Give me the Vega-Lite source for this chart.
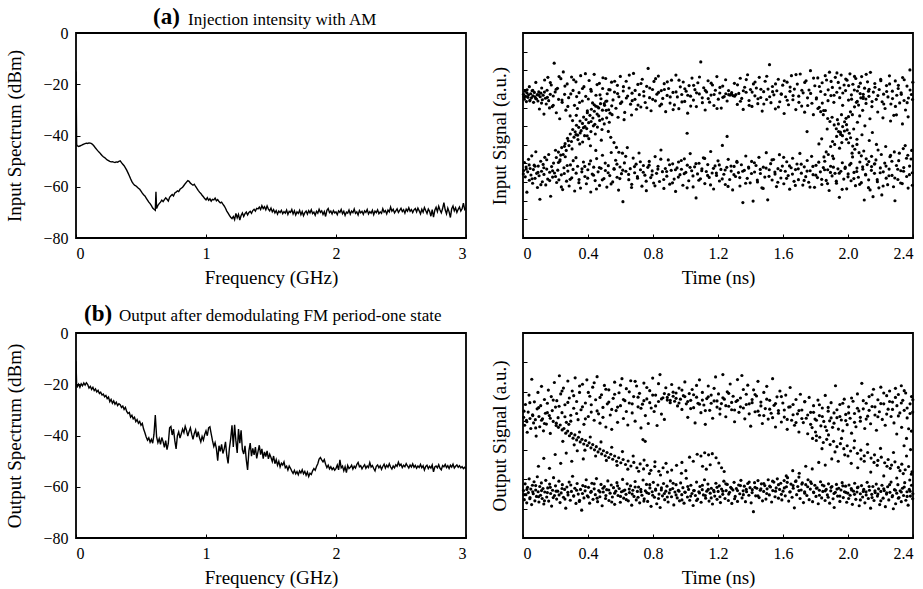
{
"$schema":"https://vega.github.io/schema/vega-lite/v6.json",
"background":"white",
"padding":{"left":5,"top":5,"right":5,"bottom":5},
"columns":2,
"spacing":{"row":95,"column":57},
"bounds":"flush",
"config":{
"font":"Liberation Serif, DejaVu Serif, serif",
"view":{"stroke":"black","strokeWidth":1.8},
"axis":{"domain":false,"grid":false,"ticks":true,"tickColor":"black","tickSize":-4,"tickWidth":1,"labelFont":"Liberation Serif, DejaVu Serif, serif","labelFontSize":16,"labelColor":"black","titleFont":"Liberation Serif, DejaVu Serif, serif","titleFontSize":19,"titleFontWeight":"normal","titleColor":"black"},
"axisX":{"labelPadding":11,"titlePadding":7},
"axisY":{"labelPadding":12,"titlePadding":18},
"title":{"font":"Liberation Serif, DejaVu Serif, serif","color":"black"}
},
"datasets":{
"sa":[{"f":0,"p":-15},{"f":0.005,"p":-43.5},{"f":0.01,"p":-44.0},{"f":0.02,"p":-44.3},{"f":0.03,"p":-44.1},{"f":0.04,"p":-43.9},{"f":0.05,"p":-43.6},{"f":0.06,"p":-43.4},{"f":0.07,"p":-43.2},{"f":0.08,"p":-43.0},{"f":0.09,"p":-43.1},{"f":0.10,"p":-42.9},{"f":0.11,"p":-43.0},{"f":0.12,"p":-43.2},{"f":0.13,"p":-43.6},{"f":0.14,"p":-44.2},{"f":0.15,"p":-44.9},{"f":0.16,"p":-45.5},{"f":0.17,"p":-46.1},{"f":0.18,"p":-46.6},{"f":0.19,"p":-47.2},{"f":0.20,"p":-47.8},{"f":0.21,"p":-48.3},{"f":0.22,"p":-48.6},{"f":0.23,"p":-49.1},{"f":0.24,"p":-49.5},{"f":0.25,"p":-49.8},{"f":0.26,"p":-50.1},{"f":0.27,"p":-50.3},{"f":0.28,"p":-50.2},{"f":0.29,"p":-50.4},{"f":0.30,"p":-50.5},{"f":0.31,"p":-50.3},{"f":0.32,"p":-50.4},{"f":0.33,"p":-50.1},{"f":0.34,"p":-49.9},{"f":0.35,"p":-50.6},{"f":0.36,"p":-51.2},{"f":0.37,"p":-51.8},{"f":0.38,"p":-52.6},{"f":0.39,"p":-53.5},{"f":0.40,"p":-54.6},{"f":0.41,"p":-55.7},{"f":0.42,"p":-56.9},{"f":0.43,"p":-58.0},{"f":0.44,"p":-58.8},{"f":0.45,"p":-59.4},{"f":0.46,"p":-59.6},{"f":0.47,"p":-60.1},{"f":0.48,"p":-60.6},{"f":0.49,"p":-61.0},{"f":0.50,"p":-61.7},{"f":0.51,"p":-62.5},{"f":0.52,"p":-63.1},{"f":0.53,"p":-63.6},{"f":0.54,"p":-64.4},{"f":0.55,"p":-65.2},{"f":0.56,"p":-66.0},{"f":0.57,"p":-66.6},{"f":0.58,"p":-67.4},{"f":0.59,"p":-68.3},{"f":0.60,"p":-68.8},{"f":0.61,"p":-69.2},{"f":0.615,"p":-62.0},{"f":0.62,"p":-68.5},{"f":0.63,"p":-67.3},{"f":0.64,"p":-66.6},{"f":0.65,"p":-66.0},{"f":0.66,"p":-65.2},{"f":0.67,"p":-65.8},{"f":0.68,"p":-65.0},{"f":0.69,"p":-64.3},{"f":0.70,"p":-64.9},{"f":0.71,"p":-65.6},{"f":0.72,"p":-64.1},{"f":0.73,"p":-63.5},{"f":0.74,"p":-63.0},{"f":0.75,"p":-63.6},{"f":0.76,"p":-62.4},{"f":0.77,"p":-62.1},{"f":0.78,"p":-61.6},{"f":0.79,"p":-61.9},{"f":0.80,"p":-61.0},{"f":0.81,"p":-60.6},{"f":0.82,"p":-60.2},{"f":0.83,"p":-59.5},{"f":0.84,"p":-58.8},{"f":0.85,"p":-58.2},{"f":0.86,"p":-57.6},{"f":0.87,"p":-57.9},{"f":0.88,"p":-58.6},{"f":0.89,"p":-59.0},{"f":0.90,"p":-59.4},{"f":0.91,"p":-59.0},{"f":0.92,"p":-59.9},{"f":0.93,"p":-60.6},{"f":0.94,"p":-61.4},{"f":0.95,"p":-62.1},{"f":0.96,"p":-62.6},{"f":0.97,"p":-63.3},{"f":0.98,"p":-63.9},{"f":0.99,"p":-64.6},{"f":1.00,"p":-65.1},{"f":1.01,"p":-64.3},{"f":1.02,"p":-65.3},{"f":1.03,"p":-64.7},{"f":1.04,"p":-65.6},{"f":1.05,"p":-64.9},{"f":1.06,"p":-65.1},{"f":1.07,"p":-64.4},{"f":1.08,"p":-65.5},{"f":1.09,"p":-65.0},{"f":1.10,"p":-65.8},{"f":1.11,"p":-66.3},{"f":1.12,"p":-66.0},{"f":1.13,"p":-66.8},{"f":1.14,"p":-67.5},{"f":1.15,"p":-68.4},{"f":1.16,"p":-69.5},{"f":1.17,"p":-70.3},{"f":1.18,"p":-71.2},{"f":1.19,"p":-71.9},{"f":1.20,"p":-72.4},{"f":1.21,"p":-71.6},{"f":1.22,"p":-72.8},{"f":1.23,"p":-70.4},{"f":1.24,"p":-72.1},{"f":1.25,"p":-70.8},{"f":1.26,"p":-73.0},{"f":1.27,"p":-71.2},{"f":1.28,"p":-70.2},{"f":1.29,"p":-71.6},{"f":1.30,"p":-70.5},{"f":1.31,"p":-69.9},{"f":1.32,"p":-71.0},{"f":1.33,"p":-70.0},{"f":1.34,"p":-69.6},{"f":1.35,"p":-70.4},{"f":1.36,"p":-69.3},{"f":1.37,"p":-68.8},{"f":1.38,"p":-69.5},{"f":1.39,"p":-68.4},{"f":1.40,"p":-68.6},{"f":1.41,"p":-67.9},{"f":1.42,"p":-68.9},{"f":1.43,"p":-67.4},{"f":1.44,"p":-68.5},{"f":1.45,"p":-67.8},{"f":1.46,"p":-69.0},{"f":1.47,"p":-67.5},{"f":1.48,"p":-68.7},{"f":1.49,"p":-69.4},{"f":1.50,"p":-68.3},{"f":1.51,"p":-69.8},{"f":1.52,"p":-68.9},{"f":1.53,"p":-70.2},{"f":1.54,"p":-69.3},{"f":1.55,"p":-70.7},{"f":1.56,"p":-69.5},{"f":1.57,"p":-70.1},{"f":1.58,"p":-69.2},{"f":1.59,"p":-70.5},{"f":1.60,"p":-69.7},{"f":1.61,"p":-70.3},{"f":1.62,"p":-69.1},{"f":1.63,"p":-70.8},{"f":1.64,"p":-69.6},{"f":1.65,"p":-70.0},{"f":1.66,"p":-68.9},{"f":1.67,"p":-70.6},{"f":1.68,"p":-69.4},{"f":1.69,"p":-71.0},{"f":1.70,"p":-69.8},{"f":1.71,"p":-70.4},{"f":1.72,"p":-69.2},{"f":1.73,"p":-70.9},{"f":1.74,"p":-69.7},{"f":1.75,"p":-71.3},{"f":1.76,"p":-70.1},{"f":1.77,"p":-69.5},{"f":1.78,"p":-70.7},{"f":1.79,"p":-69.3},{"f":1.80,"p":-70.2},{"f":1.81,"p":-69.0},{"f":1.82,"p":-70.5},{"f":1.83,"p":-69.9},{"f":1.84,"p":-71.1},{"f":1.85,"p":-69.6},{"f":1.86,"p":-70.3},{"f":1.87,"p":-68.8},{"f":1.88,"p":-70.0},{"f":1.89,"p":-69.4},{"f":1.90,"p":-70.8},{"f":1.91,"p":-69.7},{"f":1.92,"p":-71.6},{"f":1.93,"p":-69.2},{"f":1.94,"p":-68.5},{"f":1.95,"p":-70.1},{"f":1.96,"p":-69.5},{"f":1.97,"p":-70.6},{"f":1.98,"p":-69.3},{"f":1.99,"p":-70.2},{"f":2.00,"p":-69.8},{"f":2.01,"p":-70.9},{"f":2.02,"p":-69.4},{"f":2.03,"p":-70.0},{"f":2.04,"p":-68.9},{"f":2.05,"p":-70.5},{"f":2.06,"p":-69.6},{"f":2.07,"p":-71.2},{"f":2.08,"p":-69.9},{"f":2.09,"p":-70.3},{"f":2.10,"p":-69.1},{"f":2.11,"p":-70.7},{"f":2.12,"p":-69.5},{"f":2.13,"p":-70.1},{"f":2.14,"p":-68.7},{"f":2.15,"p":-70.4},{"f":2.16,"p":-69.8},{"f":2.17,"p":-71.0},{"f":2.18,"p":-69.3},{"f":2.19,"p":-70.2},{"f":2.20,"p":-69.6},{"f":2.21,"p":-70.8},{"f":2.22,"p":-69.4},{"f":2.23,"p":-70.0},{"f":2.24,"p":-68.9},{"f":2.25,"p":-70.6},{"f":2.26,"p":-69.7},{"f":2.27,"p":-70.3},{"f":2.28,"p":-69.2},{"f":2.29,"p":-70.9},{"f":2.30,"p":-69.5},{"f":2.31,"p":-70.1},{"f":2.32,"p":-69.0},{"f":2.33,"p":-70.5},{"f":2.34,"p":-69.8},{"f":2.35,"p":-70.4},{"f":2.36,"p":-68.6},{"f":2.37,"p":-69.9},{"f":2.38,"p":-69.3},{"f":2.39,"p":-70.6},{"f":2.40,"p":-69.1},{"f":2.41,"p":-69.8},{"f":2.42,"p":-67.9},{"f":2.43,"p":-69.5},{"f":2.44,"p":-68.8},{"f":2.45,"p":-70.2},{"f":2.46,"p":-69.4},{"f":2.47,"p":-68.6},{"f":2.48,"p":-70.0},{"f":2.49,"p":-69.2},{"f":2.50,"p":-68.4},{"f":2.51,"p":-69.7},{"f":2.52,"p":-69.0},{"f":2.53,"p":-70.3},{"f":2.54,"p":-68.7},{"f":2.55,"p":-69.5},{"f":2.56,"p":-68.2},{"f":2.57,"p":-69.6},{"f":2.58,"p":-68.9},{"f":2.59,"p":-70.1},{"f":2.60,"p":-69.0},{"f":2.61,"p":-68.5},{"f":2.62,"p":-69.8},{"f":2.63,"p":-68.3},{"f":2.64,"p":-69.4},{"f":2.65,"p":-70.6},{"f":2.66,"p":-68.8},{"f":2.67,"p":-69.9},{"f":2.68,"p":-68.1},{"f":2.69,"p":-69.3},{"f":2.70,"p":-70.4},{"f":2.71,"p":-68.7},{"f":2.72,"p":-69.6},{"f":2.73,"p":-71.5},{"f":2.74,"p":-68.9},{"f":2.75,"p":-71.9},{"f":2.76,"p":-69.2},{"f":2.77,"p":-68.0},{"f":2.78,"p":-69.7},{"f":2.79,"p":-67.6},{"f":2.80,"p":-69.1},{"f":2.81,"p":-70.2},{"f":2.82,"p":-68.5},{"f":2.83,"p":-66.2},{"f":2.84,"p":-69.0},{"f":2.85,"p":-70.6},{"f":2.86,"p":-68.3},{"f":2.87,"p":-69.8},{"f":2.88,"p":-72.0},{"f":2.89,"p":-68.6},{"f":2.90,"p":-67.5},{"f":2.91,"p":-69.4},{"f":2.92,"p":-68.2},{"f":2.93,"p":-70.0},{"f":2.94,"p":-68.8},{"f":2.95,"p":-67.9},{"f":2.96,"p":-69.5},{"f":2.97,"p":-68.6},{"f":2.98,"p":-66.4},{"f":2.99,"p":-68.9},{"f":3.00,"p":-68.3}],
"sb":[{"f":0,"p":-11},{"f":0.005,"p":-20.5},{"f":0.01,"p":-21.0},{"f":0.02,"p":-20.0},{"f":0.03,"p":-21.2},{"f":0.04,"p":-19.8},{"f":0.05,"p":-20.6},{"f":0.06,"p":-19.5},{"f":0.07,"p":-20.3},{"f":0.08,"p":-19.4},{"f":0.09,"p":-20.1},{"f":0.10,"p":-21.5},{"f":0.11,"p":-20.8},{"f":0.12,"p":-22.0},{"f":0.13,"p":-21.2},{"f":0.14,"p":-22.5},{"f":0.15,"p":-21.8},{"f":0.16,"p":-23.0},{"f":0.17,"p":-22.4},{"f":0.18,"p":-23.6},{"f":0.19,"p":-23.1},{"f":0.20,"p":-24.2},{"f":0.21,"p":-23.8},{"f":0.22,"p":-24.9},{"f":0.23,"p":-24.4},{"f":0.24,"p":-25.6},{"f":0.25,"p":-25.0},{"f":0.26,"p":-26.8},{"f":0.27,"p":-25.9},{"f":0.28,"p":-27.4},{"f":0.29,"p":-26.5},{"f":0.30,"p":-27.8},{"f":0.31,"p":-27.0},{"f":0.32,"p":-28.3},{"f":0.33,"p":-27.6},{"f":0.34,"p":-28.0},{"f":0.35,"p":-29.1},{"f":0.36,"p":-28.5},{"f":0.37,"p":-29.8},{"f":0.38,"p":-29.0},{"f":0.39,"p":-30.6},{"f":0.40,"p":-31.4},{"f":0.41,"p":-31.0},{"f":0.42,"p":-32.8},{"f":0.43,"p":-32.1},{"f":0.44,"p":-33.5},{"f":0.45,"p":-32.9},{"f":0.46,"p":-34.6},{"f":0.47,"p":-33.8},{"f":0.48,"p":-35.2},{"f":0.49,"p":-34.5},{"f":0.50,"p":-36.0},{"f":0.51,"p":-35.3},{"f":0.52,"p":-37.5},{"f":0.53,"p":-38.9},{"f":0.54,"p":-40.6},{"f":0.55,"p":-41.8},{"f":0.56,"p":-40.9},{"f":0.57,"p":-42.6},{"f":0.58,"p":-41.5},{"f":0.59,"p":-43.0},{"f":0.60,"p":-39.5},{"f":0.61,"p":-32.0},{"f":0.62,"p":-40.5},{"f":0.63,"p":-42.8},{"f":0.64,"p":-41.2},{"f":0.65,"p":-43.5},{"f":0.66,"p":-40.8},{"f":0.67,"p":-42.4},{"f":0.68,"p":-44.6},{"f":0.69,"p":-42.0},{"f":0.70,"p":-45.5},{"f":0.71,"p":-43.1},{"f":0.72,"p":-37.0},{"f":0.73,"p":-36.5},{"f":0.74,"p":-39.8},{"f":0.75,"p":-37.5},{"f":0.76,"p":-42.0},{"f":0.77,"p":-45.2},{"f":0.78,"p":-40.1},{"f":0.79,"p":-38.6},{"f":0.80,"p":-41.0},{"f":0.81,"p":-39.3},{"f":0.82,"p":-37.5},{"f":0.83,"p":-38.9},{"f":0.84,"p":-36.4},{"f":0.85,"p":-38.0},{"f":0.86,"p":-40.2},{"f":0.87,"p":-38.4},{"f":0.88,"p":-37.0},{"f":0.89,"p":-39.5},{"f":0.90,"p":-41.5},{"f":0.91,"p":-39.2},{"f":0.92,"p":-37.8},{"f":0.93,"p":-40.6},{"f":0.94,"p":-38.5},{"f":0.95,"p":-40.9},{"f":0.96,"p":-42.5},{"f":0.97,"p":-40.4},{"f":0.98,"p":-41.8},{"f":0.99,"p":-39.6},{"f":1.00,"p":-38.2},{"f":1.01,"p":-40.1},{"f":1.02,"p":-37.0},{"f":1.03,"p":-36.6},{"f":1.04,"p":-39.4},{"f":1.05,"p":-42.0},{"f":1.06,"p":-44.3},{"f":1.07,"p":-42.8},{"f":1.08,"p":-45.1},{"f":1.09,"p":-49.8},{"f":1.10,"p":-44.0},{"f":1.11,"p":-46.2},{"f":1.12,"p":-43.5},{"f":1.13,"p":-47.0},{"f":1.14,"p":-45.2},{"f":1.15,"p":-42.5},{"f":1.16,"p":-47.8},{"f":1.17,"p":-50.9},{"f":1.18,"p":-45.0},{"f":1.19,"p":-41.2},{"f":1.20,"p":-36.0},{"f":1.21,"p":-44.5},{"f":1.22,"p":-35.8},{"f":1.23,"p":-42.0},{"f":1.24,"p":-46.8},{"f":1.25,"p":-37.5},{"f":1.26,"p":-43.0},{"f":1.27,"p":-38.0},{"f":1.28,"p":-45.6},{"f":1.29,"p":-47.2},{"f":1.30,"p":-44.0},{"f":1.31,"p":-49.5},{"f":1.32,"p":-53.4},{"f":1.33,"p":-46.0},{"f":1.34,"p":-43.0},{"f":1.35,"p":-48.1},{"f":1.36,"p":-45.0},{"f":1.37,"p":-47.6},{"f":1.38,"p":-44.5},{"f":1.39,"p":-48.9},{"f":1.40,"p":-46.3},{"f":1.41,"p":-43.8},{"f":1.42,"p":-47.5},{"f":1.43,"p":-45.2},{"f":1.44,"p":-49.0},{"f":1.45,"p":-46.4},{"f":1.46,"p":-48.2},{"f":1.47,"p":-46.0},{"f":1.48,"p":-49.1},{"f":1.49,"p":-47.3},{"f":1.50,"p":-48.6},{"f":1.51,"p":-50.2},{"f":1.52,"p":-48.0},{"f":1.53,"p":-51.0},{"f":1.54,"p":-49.4},{"f":1.55,"p":-51.6},{"f":1.56,"p":-50.1},{"f":1.57,"p":-52.3},{"f":1.58,"p":-50.8},{"f":1.59,"p":-51.5},{"f":1.60,"p":-50.3},{"f":1.61,"p":-52.6},{"f":1.62,"p":-52.0},{"f":1.63,"p":-53.5},{"f":1.64,"p":-51.9},{"f":1.65,"p":-52.8},{"f":1.66,"p":-53.9},{"f":1.67,"p":-54.8},{"f":1.68,"p":-53.6},{"f":1.69,"p":-55.0},{"f":1.70,"p":-54.1},{"f":1.71,"p":-55.3},{"f":1.72,"p":-53.8},{"f":1.73,"p":-54.6},{"f":1.74,"p":-53.4},{"f":1.75,"p":-54.9},{"f":1.76,"p":-54.0},{"f":1.77,"p":-55.5},{"f":1.78,"p":-54.3},{"f":1.79,"p":-56.0},{"f":1.80,"p":-54.7},{"f":1.81,"p":-55.2},{"f":1.82,"p":-53.8},{"f":1.83,"p":-52.9},{"f":1.84,"p":-53.6},{"f":1.85,"p":-52.1},{"f":1.86,"p":-51.0},{"f":1.87,"p":-49.2},{"f":1.88,"p":-48.6},{"f":1.89,"p":-49.5},{"f":1.90,"p":-50.3},{"f":1.91,"p":-49.4},{"f":1.92,"p":-51.2},{"f":1.93,"p":-52.5},{"f":1.94,"p":-51.6},{"f":1.95,"p":-53.0},{"f":1.96,"p":-52.2},{"f":1.97,"p":-53.3},{"f":1.98,"p":-52.6},{"f":1.99,"p":-53.5},{"f":2.00,"p":-52.8},{"f":2.01,"p":-51.5},{"f":2.02,"p":-53.4},{"f":2.03,"p":-49.5},{"f":2.04,"p":-52.6},{"f":2.05,"p":-51.9},{"f":2.06,"p":-53.8},{"f":2.07,"p":-52.2},{"f":2.08,"p":-54.5},{"f":2.09,"p":-51.7},{"f":2.10,"p":-52.9},{"f":2.11,"p":-52.4},{"f":2.12,"p":-51.6},{"f":2.13,"p":-53.1},{"f":2.14,"p":-52.0},{"f":2.15,"p":-52.7},{"f":2.16,"p":-51.3},{"f":2.17,"p":-50.5},{"f":2.18,"p":-52.2},{"f":2.19,"p":-51.8},{"f":2.20,"p":-53.0},{"f":2.21,"p":-52.1},{"f":2.22,"p":-51.4},{"f":2.23,"p":-52.8},{"f":2.24,"p":-51.9},{"f":2.25,"p":-52.5},{"f":2.26,"p":-50.6},{"f":2.27,"p":-52.3},{"f":2.28,"p":-51.7},{"f":2.29,"p":-52.9},{"f":2.30,"p":-53.8},{"f":2.31,"p":-52.0},{"f":2.32,"p":-51.5},{"f":2.33,"p":-52.6},{"f":2.34,"p":-51.8},{"f":2.35,"p":-53.2},{"f":2.36,"p":-52.1},{"f":2.37,"p":-51.2},{"f":2.38,"p":-52.7},{"f":2.39,"p":-51.6},{"f":2.40,"p":-52.4},{"f":2.41,"p":-51.0},{"f":2.42,"p":-52.3},{"f":2.43,"p":-53.1},{"f":2.44,"p":-51.9},{"f":2.45,"p":-52.6},{"f":2.46,"p":-51.4},{"f":2.47,"p":-52.0},{"f":2.48,"p":-50.4},{"f":2.49,"p":-51.8},{"f":2.50,"p":-51.2},{"f":2.51,"p":-52.5},{"f":2.52,"p":-51.6},{"f":2.53,"p":-52.2},{"f":2.54,"p":-51.0},{"f":2.55,"p":-51.9},{"f":2.56,"p":-52.7},{"f":2.57,"p":-51.5},{"f":2.58,"p":-52.3},{"f":2.59,"p":-51.1},{"f":2.60,"p":-52.4},{"f":2.61,"p":-51.7},{"f":2.62,"p":-52.8},{"f":2.63,"p":-51.9},{"f":2.64,"p":-52.5},{"f":2.65,"p":-51.3},{"f":2.66,"p":-52.6},{"f":2.67,"p":-51.8},{"f":2.68,"p":-53.5},{"f":2.69,"p":-52.1},{"f":2.70,"p":-51.6},{"f":2.71,"p":-52.9},{"f":2.72,"p":-52.0},{"f":2.73,"p":-52.7},{"f":2.74,"p":-51.5},{"f":2.75,"p":-54.2},{"f":2.76,"p":-52.3},{"f":2.77,"p":-51.9},{"f":2.78,"p":-52.6},{"f":2.79,"p":-51.4},{"f":2.80,"p":-52.8},{"f":2.81,"p":-53.4},{"f":2.82,"p":-51.7},{"f":2.83,"p":-52.2},{"f":2.84,"p":-51.3},{"f":2.85,"p":-52.5},{"f":2.86,"p":-51.8},{"f":2.87,"p":-52.9},{"f":2.88,"p":-51.6},{"f":2.89,"p":-52.3},{"f":2.90,"p":-51.2},{"f":2.91,"p":-52.7},{"f":2.92,"p":-52.0},{"f":2.93,"p":-51.5},{"f":2.94,"p":-52.4},{"f":2.95,"p":-51.8},{"f":2.96,"p":-52.6},{"f":2.97,"p":-52.1},{"f":2.98,"p":-52.9},{"f":2.99,"p":-52.4},{"f":3.00,"p":-53.0}],
"ea":[{"t":0.003,"v":7.71},{"t":0.008,"v":7.45},{"t":0.012,"v":7.88},{"t":0.016,"v":7.60},{"t":0.021,"v":7.32},{"t":0.025,"v":7.95},{"t":0.030,"v":7.55},{"t":0.034,"v":7.68},{"t":0.039,"v":8.12},{"t":0.043,"v":7.40},{"t":0.047,"v":7.74},{"t":0.052,"v":7.52},{"t":0.056,"v":7.90},{"t":0.061,"v":7.63},{"t":0.065,"v":7.28},{"t":0.070,"v":7.81},{"t":0.074,"v":7.57},{"t":0.079,"v":8.35},{"t":0.083,"v":7.46},{"t":0.088,"v":7.69},{"t":0.092,"v":7.35},{"t":0.097,"v":7.84},{"t":0.101,"v":6.92},{"t":0.106,"v":7.58},{"t":0.110,"v":7.77},{"t":0.115,"v":8.05},{"t":0.119,"v":7.42},{"t":0.124,"v":7.66},{"t":0.129,"v":6.65},{"t":0.133,"v":8.48},{"t":0.138,"v":7.50},{"t":0.143,"v":7.19},{"t":0.148,"v":7.93},{"t":0.153,"v":8.62},{"t":0.158,"v":7.37},{"t":0.163,"v":6.98},{"t":0.168,"v":7.71},{"t":0.174,"v":8.21},{"t":0.180,"v":7.05},{"t":0.186,"v":7.62},{"t":0.192,"v":9.38},{"t":0.198,"v":7.84},{"t":0.205,"v":6.72},{"t":0.212,"v":8.03},{"t":0.219,"v":7.44},{"t":0.226,"v":6.40},{"t":0.233,"v":8.55},{"t":0.241,"v":7.28},{"t":0.248,"v":8.91},{"t":0.256,"v":7.71},{"t":0.264,"v":6.86},{"t":0.272,"v":8.27},{"t":0.281,"v":7.53},{"t":0.290,"v":6.55},{"t":0.299,"v":8.64},{"t":0.308,"v":7.92},{"t":0.317,"v":7.12},{"t":0.326,"v":8.38},{"t":0.335,"v":6.95},{"t":0.345,"v":7.80},{"t":0.355,"v":8.71},{"t":0.365,"v":7.35},{"t":0.375,"v":8.12},{"t":0.386,"v":7.60},{"t":0.396,"v":6.82},{"t":0.407,"v":8.45},{"t":0.417,"v":7.98},{"t":0.428,"v":7.25},{"t":0.438,"v":8.78},{"t":0.449,"v":7.66},{"t":0.459,"v":7.04},{"t":0.470,"v":8.30},{"t":0.480,"v":7.47},{"t":0.490,"v":8.02},{"t":0.500,"v":7.21},{"t":0.509,"v":8.56},{"t":0.518,"v":7.74},{"t":0.527,"v":6.88},{"t":0.536,"v":7.95},{"t":0.545,"v":8.36},{"t":0.554,"v":7.41},{"t":0.563,"v":7.83},{"t":0.572,"v":6.96},{"t":0.581,"v":8.19},{"t":0.590,"v":7.58},{"t":0.599,"v":8.67},{"t":0.608,"v":7.30},{"t":0.617,"v":7.89},{"t":0.626,"v":6.74},{"t":0.635,"v":8.41},{"t":0.644,"v":7.62},{"t":0.653,"v":8.05},{"t":0.662,"v":7.18},{"t":0.671,"v":7.77},{"t":0.680,"v":8.83},{"t":0.689,"v":7.44},{"t":0.698,"v":6.91},{"t":0.707,"v":8.24},{"t":0.716,"v":7.69},{"t":0.725,"v":7.03},{"t":0.734,"v":8.52},{"t":0.743,"v":7.86},{"t":0.752,"v":7.27},{"t":0.761,"v":8.14},{"t":0.770,"v":9.10},{"t":0.779,"v":7.53},{"t":0.788,"v":6.83},{"t":0.797,"v":7.97},{"t":0.806,"v":8.40},{"t":0.815,"v":7.36},{"t":0.824,"v":7.72},{"t":0.833,"v":8.69},{"t":0.842,"v":7.09},{"t":0.851,"v":7.91},{"t":0.860,"v":7.49},{"t":0.869,"v":8.28},{"t":0.878,"v":6.78},{"t":0.887,"v":7.65},{"t":0.896,"v":8.02},{"t":0.905,"v":7.24},{"t":0.914,"v":8.47},{"t":0.923,"v":7.81},{"t":0.932,"v":7.14},{"t":0.941,"v":8.74},{"t":0.950,"v":7.57},{"t":0.959,"v":6.94},{"t":0.968,"v":8.11},{"t":0.977,"v":7.70},{"t":0.986,"v":8.37},{"t":0.995,"v":7.33},{"t":1.004,"v":7.88},{"t":1.013,"v":6.70},{"t":1.022,"v":8.18},{"t":1.031,"v":7.61},{"t":1.040,"v":8.58},{"t":1.049,"v":7.40},{"t":1.058,"v":7.96},{"t":1.067,"v":7.05},{"t":1.076,"v":8.33},{"t":1.085,"v":7.73},{"t":1.094,"v":9.45},{"t":1.103,"v":7.52},{"t":1.112,"v":8.06},{"t":1.121,"v":6.87},{"t":1.130,"v":7.84},{"t":1.139,"v":8.44},{"t":1.148,"v":7.29},{"t":1.157,"v":7.67},{"t":1.166,"v":8.21},{"t":1.175,"v":7.11},{"t":1.184,"v":7.93},{"t":1.193,"v":8.66},{"t":1.202,"v":7.45},{"t":1.211,"v":7.78},{"t":1.220,"v":6.97},{"t":1.229,"v":8.15},{"t":1.238,"v":7.59},{"t":1.247,"v":8.49},{"t":1.256,"v":7.35},{"t":1.265,"v":7.91},{"t":1.274,"v":7.67},{"t":1.283,"v":7.72},{"t":1.292,"v":7.64},{"t":1.301,"v":8.30},{"t":1.310,"v":7.70},{"t":1.319,"v":7.17},{"t":1.328,"v":7.76},{"t":1.337,"v":8.57},{"t":1.346,"v":7.49},{"t":1.355,"v":6.90},{"t":1.364,"v":8.09},{"t":1.373,"v":7.82},{"t":1.382,"v":8.76},{"t":1.391,"v":7.38},{"t":1.400,"v":7.97},{"t":1.409,"v":7.06},{"t":1.418,"v":8.27},{"t":1.427,"v":7.63},{"t":1.436,"v":8.05},{"t":1.445,"v":7.21},{"t":1.454,"v":8.62},{"t":1.463,"v":7.54},{"t":1.472,"v":6.81},{"t":1.481,"v":7.85},{"t":1.490,"v":8.41},{"t":1.499,"v":7.43},{"t":1.508,"v":7.99},{"t":1.517,"v":9.30},{"t":1.526,"v":7.26},{"t":1.535,"v":8.13},{"t":1.544,"v":7.68},{"t":1.553,"v":6.93},{"t":1.562,"v":7.90},{"t":1.571,"v":8.52},{"t":1.580,"v":7.31},{"t":1.589,"v":7.74},{"t":1.598,"v":8.20},{"t":1.607,"v":6.68},{"t":1.616,"v":7.58},{"t":1.625,"v":8.36},{"t":1.634,"v":7.15},{"t":1.643,"v":7.87},{"t":1.652,"v":8.71},{"t":1.661,"v":7.42},{"t":1.670,"v":7.99},{"t":1.679,"v":6.89},{"t":1.688,"v":8.26},{"t":1.697,"v":7.61},{"t":1.706,"v":8.80},{"t":1.715,"v":7.08},{"t":1.724,"v":7.79},{"t":1.733,"v":6.75},{"t":1.742,"v":8.44},{"t":1.751,"v":7.52},{"t":1.760,"v":7.94},{"t":1.769,"v":8.98},{"t":1.778,"v":7.23},{"t":1.787,"v":6.62},{"t":1.796,"v":8.17},{"t":1.805,"v":7.46},{"t":1.814,"v":8.59},{"t":1.823,"v":7.01},{"t":1.832,"v":7.86},{"t":1.841,"v":8.33},{"t":1.850,"v":6.84},{"t":1.859,"v":7.70},{"t":1.868,"v":8.48},{"t":1.877,"v":7.37},{"t":1.886,"v":8.90},{"t":1.895,"v":7.64},{"t":1.904,"v":8.08},{"t":1.913,"v":7.28},{"t":1.922,"v":8.62},{"t":1.931,"v":7.82},{"t":1.940,"v":8.35},{"t":1.949,"v":7.53},{"t":1.958,"v":8.74},{"t":1.967,"v":7.12},{"t":1.976,"v":8.21},{"t":1.985,"v":7.91},{"t":1.994,"v":8.47},{"t":2.003,"v":7.40},{"t":2.012,"v":8.81},{"t":2.021,"v":7.68},{"t":2.030,"v":8.25},{"t":2.039,"v":7.94},{"t":2.048,"v":8.56},{"t":2.057,"v":7.33},{"t":2.066,"v":8.12},{"t":2.075,"v":7.75},{"t":2.084,"v":8.66},{"t":2.093,"v":7.49},{"t":2.102,"v":8.04},{"t":2.111,"v":7.22},{"t":2.120,"v":8.38},{"t":2.129,"v":7.60},{"t":2.138,"v":8.89},{"t":2.147,"v":7.05},{"t":2.156,"v":7.83},{"t":2.165,"v":8.29},{"t":2.174,"v":7.44},{"t":2.183,"v":6.76},{"t":2.192,"v":7.97},{"t":2.201,"v":8.52},{"t":2.210,"v":7.31},{"t":2.219,"v":7.72},{"t":2.228,"v":6.95},{"t":2.237,"v":8.18},{"t":2.246,"v":7.57},{"t":2.255,"v":8.70},{"t":2.264,"v":7.19},{"t":2.273,"v":7.88},{"t":2.282,"v":6.58},{"t":2.291,"v":8.43},{"t":2.300,"v":7.66},{"t":2.309,"v":8.02},{"t":2.318,"v":7.25},{"t":2.327,"v":7.79},{"t":2.336,"v":8.61},{"t":2.345,"v":7.38},{"t":2.354,"v":6.87},{"t":2.363,"v":8.15},{"t":2.372,"v":7.51},{"t":2.381,"v":9.02},{"t":2.390,"v":7.70},{"t":2.397,"v":7.43},
{"t":0.006,"v":7.58},{"t":0.024,"v":7.79},{"t":0.042,"v":7.36},{"t":0.060,"v":7.92},{"t":0.078,"v":7.49},{"t":0.096,"v":7.67},{"t":0.114,"v":7.24},{"t":0.132,"v":7.83},{"t":0.150,"v":7.55},{"t":0.168,"v":8.34},{"t":0.186,"v":7.12},{"t":0.204,"v":7.98},{"t":0.222,"v":8.66},{"t":0.240,"v":7.40},{"t":0.258,"v":8.15},{"t":0.276,"v":7.06},{"t":0.294,"v":7.73},{"t":0.312,"v":8.49},{"t":0.330,"v":7.59},{"t":0.348,"v":7.27},{"t":0.366,"v":8.02},{"t":0.384,"v":8.82},{"t":0.402,"v":7.46},{"t":0.420,"v":7.88},{"t":0.438,"v":7.15},{"t":0.456,"v":8.23},{"t":0.474,"v":7.68},{"t":0.492,"v":8.60},{"t":0.510,"v":7.34},{"t":0.528,"v":7.96},{"t":0.546,"v":7.09},{"t":0.564,"v":8.41},{"t":0.582,"v":7.75},{"t":0.600,"v":7.22},{"t":0.618,"v":8.12},{"t":0.636,"v":7.51},{"t":0.654,"v":8.74},{"t":0.672,"v":7.37},{"t":0.690,"v":7.92},{"t":0.708,"v":7.13},{"t":0.726,"v":8.29},{"t":0.744,"v":7.62},{"t":0.762,"v":6.99},{"t":0.780,"v":8.05},{"t":0.798,"v":7.44},{"t":0.816,"v":8.55},{"t":0.834,"v":7.81},{"t":0.852,"v":7.18},{"t":0.870,"v":7.97},{"t":0.888,"v":8.38},{"t":0.906,"v":7.57},{"t":0.924,"v":6.89},{"t":0.942,"v":7.84},{"t":0.960,"v":8.47},{"t":0.978,"v":7.30},{"t":0.996,"v":8.01},{"t":1.014,"v":7.66},{"t":1.032,"v":7.08},{"t":1.050,"v":8.19},{"t":1.068,"v":7.79},{"t":1.086,"v":8.64},{"t":1.104,"v":7.26},{"t":1.122,"v":7.92},{"t":1.140,"v":7.48},{"t":1.158,"v":8.31},{"t":1.176,"v":7.70},{"t":1.194,"v":6.95},{"t":1.212,"v":8.08},{"t":1.230,"v":7.55},{"t":1.248,"v":7.74},{"t":1.266,"v":7.69},{"t":1.284,"v":7.80},{"t":1.302,"v":7.61},{"t":1.320,"v":8.22},{"t":1.338,"v":7.34},{"t":1.356,"v":7.90},{"t":1.374,"v":8.50},{"t":1.392,"v":7.12},{"t":1.410,"v":7.83},{"t":1.428,"v":8.37},{"t":1.446,"v":7.47},{"t":1.464,"v":7.98},{"t":1.482,"v":7.19},{"t":1.500,"v":8.68},{"t":1.518,"v":7.58},{"t":1.536,"v":7.85},{"t":1.554,"v":8.27},{"t":1.572,"v":7.03},{"t":1.590,"v":7.71},{"t":1.608,"v":8.44},{"t":1.626,"v":7.39},{"t":1.644,"v":8.10},{"t":1.662,"v":7.64},{"t":1.680,"v":8.77},{"t":1.698,"v":7.28},{"t":1.716,"v":7.93},{"t":1.734,"v":8.35},{"t":1.752,"v":7.11},{"t":1.770,"v":7.76},{"t":1.788,"v":8.58},{"t":1.806,"v":7.52},{"t":1.824,"v":8.13},{"t":1.842,"v":7.24},{"t":1.860,"v":8.71},{"t":1.878,"v":7.95},{"t":1.896,"v":8.40},{"t":1.914,"v":7.66},{"t":1.932,"v":8.86},{"t":1.950,"v":8.05},{"t":1.968,"v":7.78},{"t":1.986,"v":8.53},{"t":2.004,"v":8.18},{"t":2.022,"v":7.45},{"t":2.040,"v":8.67},{"t":2.058,"v":7.89},{"t":2.076,"v":8.31},{"t":2.094,"v":7.56},{"t":2.112,"v":8.78},{"t":2.130,"v":7.98},{"t":2.148,"v":7.32},{"t":2.166,"v":8.09},{"t":2.184,"v":7.64},{"t":2.202,"v":8.44},{"t":2.220,"v":7.19},{"t":2.238,"v":7.86},{"t":2.256,"v":8.27},{"t":2.274,"v":7.48},{"t":2.292,"v":7.06},{"t":2.310,"v":8.19},{"t":2.328,"v":7.71},{"t":2.346,"v":8.49},{"t":2.364,"v":7.26},{"t":2.382,"v":7.94},{"t":2.399,"v":8.36},
{"t":0.004,"v":3.62},{"t":0.009,"v":4.05},{"t":0.014,"v":3.28},{"t":0.019,"v":3.81},{"t":0.024,"v":2.46},{"t":0.029,"v":3.55},{"t":0.034,"v":4.22},{"t":0.039,"v":3.10},{"t":0.044,"v":3.73},{"t":0.049,"v":3.38},{"t":0.054,"v":4.41},{"t":0.059,"v":2.94},{"t":0.064,"v":3.67},{"t":0.069,"v":3.91},{"t":0.074,"v":3.20},{"t":0.079,"v":4.63},{"t":0.084,"v":3.47},{"t":0.089,"v":2.71},{"t":0.094,"v":3.86},{"t":0.099,"v":3.34},{"t":0.104,"v":2.08},{"t":0.109,"v":4.12},{"t":0.114,"v":3.58},{"t":0.119,"v":3.02},{"t":0.124,"v":3.95},{"t":0.129,"v":3.41},{"t":0.134,"v":4.33},{"t":0.140,"v":2.85},{"t":0.146,"v":3.70},{"t":0.152,"v":3.16},{"t":0.158,"v":4.48},{"t":0.164,"v":3.53},{"t":0.170,"v":2.24},{"t":0.176,"v":3.83},{"t":0.182,"v":3.27},{"t":0.188,"v":4.02},{"t":0.194,"v":3.49},{"t":0.200,"v":4.71},{"t":0.207,"v":2.98},{"t":0.214,"v":3.64},{"t":0.221,"v":3.12},{"t":0.228,"v":4.20},{"t":0.236,"v":3.39},{"t":0.244,"v":2.60},{"t":0.252,"v":3.77},{"t":0.260,"v":4.36},{"t":0.268,"v":3.05},{"t":0.276,"v":3.59},{"t":0.284,"v":2.79},{"t":0.292,"v":3.92},{"t":0.300,"v":3.23},{"t":0.309,"v":4.15},{"t":0.318,"v":2.52},{"t":0.327,"v":3.48},{"t":0.336,"v":3.85},{"t":0.345,"v":3.14},{"t":0.354,"v":2.68},{"t":0.363,"v":3.71},{"t":0.372,"v":4.08},{"t":0.381,"v":3.30},{"t":0.390,"v":2.91},{"t":0.399,"v":3.66},{"t":0.408,"v":3.97},{"t":0.417,"v":2.47},{"t":0.426,"v":3.43},{"t":0.435,"v":3.80},{"t":0.444,"v":3.08},{"t":0.453,"v":4.26},{"t":0.462,"v":3.55},{"t":0.471,"v":2.82},{"t":0.480,"v":3.74},{"t":0.489,"v":4.44},{"t":0.498,"v":3.19},{"t":0.507,"v":3.62},{"t":0.516,"v":2.73},{"t":0.525,"v":3.88},{"t":0.534,"v":3.35},{"t":0.543,"v":4.59},{"t":0.552,"v":3.01},{"t":0.561,"v":3.69},{"t":0.570,"v":4.17},{"t":0.579,"v":3.26},{"t":0.588,"v":2.57},{"t":0.597,"v":3.81},{"t":0.606,"v":3.45},{"t":0.615,"v":1.95},{"t":0.624,"v":4.03},{"t":0.633,"v":3.58},{"t":0.642,"v":4.85},{"t":0.651,"v":3.13},{"t":0.660,"v":3.72},{"t":0.669,"v":2.88},{"t":0.678,"v":4.29},{"t":0.687,"v":3.50},{"t":0.696,"v":3.96},{"t":0.705,"v":3.21},{"t":0.714,"v":4.56},{"t":0.723,"v":3.66},{"t":0.732,"v":2.78},{"t":0.741,"v":3.89},{"t":0.750,"v":3.37},{"t":0.759,"v":2.54},{"t":0.768,"v":3.79},{"t":0.777,"v":4.11},{"t":0.786,"v":3.24},{"t":0.795,"v":3.60},{"t":0.804,"v":2.95},{"t":0.813,"v":4.37},{"t":0.822,"v":3.47},{"t":0.831,"v":3.85},{"t":0.840,"v":3.03},{"t":0.849,"v":4.72},{"t":0.858,"v":3.56},{"t":0.867,"v":2.66},{"t":0.876,"v":3.73},{"t":0.885,"v":3.32},{"t":0.894,"v":4.19},{"t":0.903,"v":2.89},{"t":0.912,"v":3.63},{"t":0.921,"v":3.98},{"t":0.930,"v":3.16},{"t":0.939,"v":2.50},{"t":0.948,"v":3.76},{"t":0.957,"v":4.08},{"t":0.966,"v":3.40},{"t":0.975,"v":3.69},{"t":0.984,"v":2.83},{"t":0.993,"v":4.25},{"t":1.002,"v":3.52},{"t":1.011,"v":3.91},{"t":1.020,"v":3.07},{"t":1.029,"v":4.53},{"t":1.038,"v":3.61},{"t":1.047,"v":2.74},{"t":1.056,"v":3.82},{"t":1.065,"v":2.15},{"t":1.074,"v":3.44},{"t":1.083,"v":4.01},{"t":1.092,"v":3.18},{"t":1.101,"v":3.71},{"t":1.110,"v":4.30},{"t":1.119,"v":2.92},{"t":1.128,"v":3.57},{"t":1.137,"v":3.94},{"t":1.146,"v":3.25},{"t":1.155,"v":4.64},{"t":1.164,"v":3.49},{"t":1.173,"v":2.63},{"t":1.182,"v":3.87},{"t":1.191,"v":3.36},{"t":1.200,"v":4.14},{"t":1.209,"v":3.06},{"t":1.218,"v":3.68},{"t":1.227,"v":4.97},{"t":1.236,"v":3.42},{"t":1.245,"v":2.87},{"t":1.254,"v":3.79},{"t":1.263,"v":4.22},{"t":1.272,"v":3.14},{"t":1.281,"v":3.59},{"t":1.290,"v":2.58},{"t":1.299,"v":3.84},{"t":1.308,"v":3.30},{"t":1.317,"v":4.06},{"t":1.326,"v":3.51},{"t":1.335,"v":2.79},{"t":1.344,"v":3.93},{"t":1.353,"v":1.90},{"t":1.362,"v":3.63},{"t":1.371,"v":4.40},{"t":1.380,"v":3.20},{"t":1.389,"v":3.75},{"t":1.398,"v":2.96},{"t":1.407,"v":4.11},{"t":1.416,"v":1.98},{"t":1.425,"v":3.54},{"t":1.434,"v":3.89},{"t":1.443,"v":3.01},{"t":1.452,"v":4.33},{"t":1.461,"v":3.46},{"t":1.470,"v":2.69},{"t":1.479,"v":3.80},{"t":1.488,"v":3.27},{"t":1.497,"v":4.58},{"t":1.506,"v":2.05},{"t":1.515,"v":3.66},{"t":1.524,"v":3.99},{"t":1.533,"v":3.11},{"t":1.542,"v":4.21},{"t":1.551,"v":3.43},{"t":1.560,"v":2.76},{"t":1.569,"v":3.72},{"t":1.578,"v":4.47},{"t":1.587,"v":3.22},{"t":1.596,"v":3.86},{"t":1.605,"v":2.91},{"t":1.614,"v":3.58},{"t":1.623,"v":4.09},{"t":1.632,"v":3.35},{"t":1.641,"v":2.62},{"t":1.650,"v":3.77},{"t":1.659,"v":4.28},{"t":1.668,"v":3.04},{"t":1.677,"v":3.67},{"t":1.686,"v":3.97},{"t":1.695,"v":3.13},{"t":1.704,"v":4.54},{"t":1.713,"v":3.48},{"t":1.722,"v":2.84},{"t":1.731,"v":3.82},{"t":1.740,"v":3.29},{"t":1.749,"v":4.16},{"t":1.758,"v":2.99},{"t":1.767,"v":3.61},{"t":1.776,"v":4.38},{"t":1.785,"v":3.40},{"t":1.794,"v":2.72},{"t":1.803,"v":3.90},{"t":1.812,"v":3.24},{"t":1.821,"v":5.05},{"t":1.830,"v":3.55},{"t":1.839,"v":2.87},{"t":1.848,"v":3.78},{"t":1.857,"v":4.12},{"t":1.866,"v":3.09},{"t":1.875,"v":3.66},{"t":1.884,"v":2.55},{"t":1.893,"v":3.85},{"t":1.902,"v":3.33},{"t":1.911,"v":4.26},{"t":1.920,"v":3.47},{"t":1.929,"v":2.94},{"t":1.938,"v":3.71},{"t":1.947,"v":2.18},{"t":1.956,"v":3.58},{"t":1.965,"v":4.04},{"t":1.974,"v":3.16},{"t":1.983,"v":3.80},{"t":1.992,"v":2.64},{"t":2.001,"v":3.44},{"t":2.010,"v":3.92},{"t":2.019,"v":3.07},{"t":2.028,"v":4.35},{"t":2.037,"v":3.52},{"t":2.046,"v":2.81},{"t":2.055,"v":3.75},{"t":2.064,"v":3.26},{"t":2.073,"v":4.08},{"t":2.082,"v":2.97},{"t":2.091,"v":3.69},{"t":2.100,"v":2.04},{"t":2.109,"v":3.38},{"t":2.118,"v":3.94},{"t":2.127,"v":3.12},{"t":2.136,"v":2.58},{"t":2.145,"v":3.83},{"t":2.154,"v":2.22},{"t":2.163,"v":3.47},{"t":2.172,"v":4.19},{"t":2.181,"v":3.02},{"t":2.190,"v":2.69},{"t":2.199,"v":3.76},{"t":2.208,"v":2.31},{"t":2.217,"v":3.55},{"t":2.226,"v":4.02},{"t":2.235,"v":3.21},{"t":2.244,"v":2.86},{"t":2.253,"v":3.70},{"t":2.262,"v":4.43},{"t":2.271,"v":3.36},{"t":2.280,"v":2.75},{"t":2.289,"v":2.00},{"t":2.298,"v":3.89},{"t":2.307,"v":3.14},{"t":2.316,"v":4.55},{"t":2.325,"v":3.61},{"t":2.334,"v":2.92},{"t":2.343,"v":3.78},{"t":2.352,"v":4.96},{"t":2.361,"v":3.30},{"t":2.370,"v":2.68},{"t":2.379,"v":3.86},{"t":2.388,"v":4.24},{"t":2.396,"v":3.50},
{"t":0.002,"v":3.44},{"t":0.020,"v":3.70},{"t":0.038,"v":3.92},{"t":0.056,"v":3.18},{"t":0.074,"v":3.85},{"t":0.092,"v":3.52},{"t":0.110,"v":2.86},{"t":0.128,"v":3.77},{"t":0.146,"v":4.20},{"t":0.164,"v":3.08},{"t":0.182,"v":3.61},{"t":0.200,"v":3.30},{"t":0.218,"v":4.05},{"t":0.236,"v":2.74},{"t":0.254,"v":3.46},{"t":0.272,"v":3.89},{"t":0.290,"v":3.15},{"t":0.308,"v":3.68},{"t":0.326,"v":4.31},{"t":0.344,"v":2.97},{"t":0.362,"v":3.55},{"t":0.380,"v":3.84},{"t":0.398,"v":3.21},{"t":0.416,"v":4.14},{"t":0.434,"v":3.37},{"t":0.452,"v":2.63},{"t":0.470,"v":3.78},{"t":0.488,"v":3.12},{"t":0.506,"v":4.02},{"t":0.524,"v":3.50},{"t":0.542,"v":2.90},{"t":0.560,"v":3.72},{"t":0.578,"v":3.96},{"t":0.596,"v":3.19},{"t":0.614,"v":3.64},{"t":0.632,"v":4.38},{"t":0.650,"v":3.41},{"t":0.668,"v":2.71},{"t":0.686,"v":3.83},{"t":0.704,"v":3.29},{"t":0.722,"v":4.09},{"t":0.740,"v":3.53},{"t":0.758,"v":3.05},{"t":0.776,"v":3.91},{"t":0.794,"v":3.38},{"t":0.812,"v":2.80},{"t":0.830,"v":3.70},{"t":0.848,"v":4.23},{"t":0.866,"v":3.14},{"t":0.884,"v":3.57},{"t":0.902,"v":3.93},{"t":0.920,"v":2.96},{"t":0.938,"v":3.66},{"t":0.956,"v":3.27},{"t":0.974,"v":4.16},{"t":0.992,"v":3.45},{"t":1.010,"v":2.69},{"t":1.028,"v":3.79},{"t":1.046,"v":3.33},{"t":1.064,"v":3.99},{"t":1.082,"v":3.10},{"t":1.100,"v":3.61},{"t":1.118,"v":4.27},{"t":1.136,"v":3.36},{"t":1.154,"v":2.85},{"t":1.172,"v":3.74},{"t":1.190,"v":3.49},{"t":1.208,"v":3.92},{"t":1.226,"v":3.17},{"t":1.244,"v":3.65},{"t":1.262,"v":2.77},{"t":1.280,"v":3.86},{"t":1.298,"v":3.40},{"t":1.316,"v":4.11},{"t":1.334,"v":3.24},{"t":1.352,"v":3.58},{"t":1.370,"v":2.94},{"t":1.388,"v":3.81},{"t":1.406,"v":3.46},{"t":1.424,"v":4.04},{"t":1.442,"v":3.11},{"t":1.460,"v":3.68},{"t":1.478,"v":2.66},{"t":1.496,"v":3.75},{"t":1.514,"v":3.31},{"t":1.532,"v":4.19},{"t":1.550,"v":3.54},{"t":1.568,"v":2.99},{"t":1.586,"v":3.62},{"t":1.604,"v":4.33},{"t":1.622,"v":3.20},{"t":1.640,"v":3.87},{"t":1.658,"v":3.43},{"t":1.676,"v":2.82},{"t":1.694,"v":3.71},{"t":1.712,"v":3.96},{"t":1.730,"v":3.09},{"t":1.748,"v":3.59},{"t":1.766,"v":2.73},{"t":1.784,"v":3.84},{"t":1.802,"v":3.37},{"t":1.820,"v":4.07},{"t":1.838,"v":3.15},{"t":1.856,"v":3.66},{"t":1.874,"v":2.92},{"t":1.892,"v":3.52},{"t":1.910,"v":3.80},{"t":1.928,"v":3.05},{"t":1.946,"v":3.48},{"t":1.964,"v":2.61},{"t":1.982,"v":3.73},{"t":2.000,"v":3.28},{"t":2.018,"v":4.00},{"t":2.036,"v":3.19},{"t":2.054,"v":3.57},{"t":2.072,"v":2.88},{"t":2.090,"v":3.82},{"t":2.108,"v":3.41},{"t":2.126,"v":2.70},{"t":2.144,"v":3.63},{"t":2.162,"v":3.97},{"t":2.180,"v":3.13},{"t":2.198,"v":3.50},{"t":2.216,"v":2.79},{"t":2.234,"v":3.86},{"t":2.252,"v":3.34},{"t":2.270,"v":4.12},{"t":2.288,"v":3.22},{"t":2.306,"v":3.69},{"t":2.324,"v":2.95},{"t":2.342,"v":3.58},{"t":2.360,"v":4.28},{"t":2.378,"v":3.40},{"t":2.396,"v":2.83},
{"t":0.205,"v":4.32},{"t":0.218,"v":4.61},{"t":0.226,"v":4.12},{"t":0.238,"v":4.85},{"t":0.247,"v":4.48},{"t":0.259,"v":5.06},{"t":0.266,"v":4.70},{"t":0.274,"v":5.35},{"t":0.283,"v":4.96},{"t":0.291,"v":5.58},{"t":0.298,"v":5.18},{"t":0.306,"v":5.82},{"t":0.314,"v":5.41},{"t":0.321,"v":5.70},{"t":0.329,"v":6.05},{"t":0.336,"v":5.52},{"t":0.343,"v":5.94},{"t":0.351,"v":6.28},{"t":0.358,"v":5.76},{"t":0.366,"v":6.15},{"t":0.373,"v":6.49},{"t":0.381,"v":5.98},{"t":0.388,"v":6.36},{"t":0.396,"v":6.72},{"t":0.404,"v":6.19},{"t":0.412,"v":6.58},{"t":0.421,"v":6.91},{"t":0.430,"v":6.44},{"t":0.439,"v":6.80},{"t":0.447,"v":7.08},{"t":0.456,"v":6.65},{"t":0.466,"v":6.98},{"t":0.477,"v":7.21},{"t":0.489,"v":6.86},{"t":0.502,"v":7.12},{"t":0.516,"v":7.35},{"t":0.338,"v":5.28},{"t":0.352,"v":5.64},{"t":0.367,"v":5.15},{"t":0.379,"v":5.49},{"t":0.392,"v":5.87},{"t":0.405,"v":5.33},{"t":0.418,"v":5.71},{"t":0.433,"v":6.02},{"t":0.445,"v":5.58},{"t":0.458,"v":5.95},{"t":0.472,"v":6.31},{"t":0.486,"v":5.82},{"t":0.500,"v":6.12},{"t":0.515,"v":6.45},{"t":0.531,"v":6.21},{"t":0.548,"v":6.62},{"t":0.525,"v":5.72},{"t":0.540,"v":5.40},{"t":0.560,"v":5.12},{"t":0.575,"v":4.86},{"t":0.590,"v":4.60},{"t":0.585,"v":6.48},{"t":0.622,"v":6.35},{"t":0.668,"v":6.60},{"t":0.232,"v":4.45},{"t":0.255,"v":4.92},{"t":0.279,"v":5.22},{"t":0.302,"v":4.78},{"t":0.326,"v":5.55},{"t":0.349,"v":5.05},{"t":0.372,"v":5.92},{"t":0.395,"v":5.48},{"t":0.419,"v":6.25},{"t":0.442,"v":6.10},{"t":0.466,"v":6.55},{"t":0.489,"v":6.38},{"t":0.512,"v":6.85},{"t":0.536,"v":6.70},{"t":0.305,"v":6.30},{"t":0.328,"v":6.58},{"t":0.415,"v":4.95},{"t":0.448,"v":4.70},{"t":0.482,"v":5.25},{"t":0.612,"v":4.55},
{"t":1.815,"v":6.95},{"t":1.832,"v":6.78},{"t":1.848,"v":6.62},{"t":1.861,"v":6.84},{"t":1.875,"v":6.41},{"t":1.889,"v":6.25},{"t":1.902,"v":6.48},{"t":1.915,"v":6.07},{"t":1.928,"v":5.86},{"t":1.941,"v":6.12},{"t":1.953,"v":5.68},{"t":1.966,"v":5.49},{"t":1.978,"v":5.74},{"t":1.991,"v":5.30},{"t":2.004,"v":5.11},{"t":2.016,"v":5.38},{"t":2.029,"v":4.93},{"t":2.042,"v":4.76},{"t":2.055,"v":5.02},{"t":2.068,"v":4.58},{"t":2.082,"v":4.41},{"t":2.097,"v":4.67},{"t":2.112,"v":4.25},{"t":2.128,"v":4.10},{"t":2.145,"v":4.38},{"t":2.165,"v":3.98},{"t":1.852,"v":4.35},{"t":1.866,"v":4.62},{"t":1.879,"v":4.48},{"t":1.893,"v":4.91},{"t":1.905,"v":5.18},{"t":1.918,"v":5.02},{"t":1.930,"v":5.45},{"t":1.942,"v":5.71},{"t":1.955,"v":5.56},{"t":1.967,"v":5.98},{"t":1.979,"v":6.24},{"t":1.991,"v":6.08},{"t":2.003,"v":6.51},{"t":2.015,"v":6.77},{"t":2.027,"v":6.62},{"t":2.040,"v":7.04},{"t":2.052,"v":7.28},{"t":2.065,"v":7.13},{"t":2.079,"v":7.52},{"t":2.094,"v":7.71},{"t":2.110,"v":7.46},{"t":2.126,"v":7.88},{"t":1.935,"v":6.35},{"t":1.962,"v":5.12},{"t":1.988,"v":6.42},{"t":2.008,"v":5.62},{"t":2.035,"v":5.85},{"t":2.058,"v":6.21},{"t":2.086,"v":5.54},{"t":2.104,"v":6.02},{"t":2.131,"v":5.23},{"t":2.150,"v":5.66},{"t":1.948,"v":4.82},{"t":2.072,"v":6.55},{"t":2.185,"v":4.72},{"t":2.205,"v":4.48},{"t":2.232,"v":4.91},{"t":2.258,"v":4.36},{"t":2.285,"v":4.62},{"t":2.312,"v":4.15},{"t":2.340,"v":4.80},{"t":2.368,"v":4.44},{"t":2.392,"v":4.70},{"t":2.215,"v":6.45},{"t":2.262,"v":6.28},{"t":2.298,"v":6.61},{"t":2.335,"v":6.12},{"t":2.370,"v":6.50},{"t":1.010,"v":5.62},{"t":1.256,"v":5.45},{"t":1.748,"v":5.71},{"t":1.838,"v":5.32},{"t":1.872,"v":5.85},{"t":1.905,"v":4.40},{"t":1.960,"v":6.62},{"t":2.025,"v":4.55},{"t":2.090,"v":6.85},{"t":2.135,"v":6.40},{"t":2.175,"v":5.02},{"t":1.995,"v":5.80},{"t":2.055,"v":5.30}],
"eb":[{"t":0.004,"v":4.12},{"t":0.010,"v":3.85},{"t":0.015,"v":4.56},{"t":0.021,"v":4.02},{"t":0.026,"v":3.61},{"t":0.032,"v":4.30},{"t":0.037,"v":4.88},{"t":0.043,"v":4.08},{"t":0.048,"v":3.74},{"t":0.054,"v":5.42},{"t":0.059,"v":4.21},{"t":0.065,"v":3.93},{"t":0.070,"v":4.65},{"t":0.076,"v":4.04},{"t":0.081,"v":3.48},{"t":0.087,"v":4.41},{"t":0.092,"v":4.97},{"t":0.098,"v":4.15},{"t":0.103,"v":3.80},{"t":0.109,"v":4.52},{"t":0.114,"v":5.18},{"t":0.120,"v":4.07},{"t":0.126,"v":3.66},{"t":0.132,"v":4.73},{"t":0.138,"v":4.26},{"t":0.144,"v":3.89},{"t":0.150,"v":4.60},{"t":0.156,"v":5.05},{"t":0.162,"v":4.18},{"t":0.168,"v":3.57},{"t":0.174,"v":4.83},{"t":0.180,"v":4.35},{"t":0.186,"v":3.98},{"t":0.193,"v":5.31},{"t":0.200,"v":4.47},{"t":0.208,"v":4.69},{"t":0.216,"v":4.11},{"t":0.224,"v":5.54},{"t":0.232,"v":4.92},{"t":0.240,"v":4.28},{"t":0.249,"v":5.12},{"t":0.258,"v":4.55},{"t":0.267,"v":3.95},{"t":0.276,"v":5.36},{"t":0.285,"v":4.78},{"t":0.294,"v":4.19},{"t":0.303,"v":5.02},{"t":0.312,"v":4.43},{"t":0.321,"v":5.47},{"t":0.330,"v":4.66},{"t":0.339,"v":4.04},{"t":0.348,"v":4.97},{"t":0.357,"v":4.38},{"t":0.366,"v":5.25},{"t":0.375,"v":3.88},{"t":0.384,"v":4.61},{"t":0.393,"v":5.40},{"t":0.402,"v":4.15},{"t":0.411,"v":4.84},{"t":0.420,"v":4.30},{"t":0.429,"v":5.15},{"t":0.438,"v":4.02},{"t":0.447,"v":4.72},{"t":0.456,"v":5.51},{"t":0.465,"v":4.24},{"t":0.474,"v":3.92},{"t":0.483,"v":4.89},{"t":0.492,"v":4.46},{"t":0.501,"v":5.21},{"t":0.510,"v":3.79},{"t":0.519,"v":4.58},{"t":0.528,"v":5.06},{"t":0.537,"v":4.20},{"t":0.546,"v":3.71},{"t":0.555,"v":4.77},{"t":0.564,"v":5.32},{"t":0.573,"v":4.35},{"t":0.582,"v":3.95},{"t":0.591,"v":4.96},{"t":0.600,"v":4.52},{"t":0.609,"v":5.44},{"t":0.618,"v":4.08},{"t":0.627,"v":4.69},{"t":0.636,"v":5.10},{"t":0.645,"v":3.86},{"t":0.654,"v":4.61},{"t":0.663,"v":5.37},{"t":0.672,"v":4.27},{"t":0.681,"v":4.83},{"t":0.690,"v":3.99},{"t":0.699,"v":5.19},{"t":0.708,"v":4.48},{"t":0.717,"v":4.94},{"t":0.726,"v":3.76},{"t":0.735,"v":4.57},{"t":0.744,"v":5.29},{"t":0.753,"v":4.18},{"t":0.762,"v":4.75},{"t":0.771,"v":3.91},{"t":0.780,"v":5.03},{"t":0.789,"v":4.44},{"t":0.798,"v":5.46},{"t":0.807,"v":4.32},{"t":0.816,"v":4.88},{"t":0.825,"v":3.84},{"t":0.834,"v":4.66},{"t":0.843,"v":5.58},{"t":0.852,"v":4.23},{"t":0.861,"v":4.79},{"t":0.870,"v":4.05},{"t":0.879,"v":5.13},{"t":0.888,"v":4.71},{"t":0.897,"v":4.90},{"t":0.906,"v":4.62},{"t":0.915,"v":5.24},{"t":0.924,"v":4.84},{"t":0.933,"v":4.67},{"t":0.942,"v":4.95},{"t":0.951,"v":4.51},{"t":0.960,"v":5.12},{"t":0.969,"v":4.74},{"t":0.978,"v":4.39},{"t":0.987,"v":4.86},{"t":0.996,"v":5.33},{"t":1.005,"v":4.58},{"t":1.014,"v":4.12},{"t":1.023,"v":4.93},{"t":1.032,"v":4.70},{"t":1.041,"v":5.07},{"t":1.050,"v":4.45},{"t":1.059,"v":3.93},{"t":1.068,"v":4.81},{"t":1.077,"v":4.60},{"t":1.086,"v":5.40},{"t":1.095,"v":4.28},{"t":1.104,"v":4.97},{"t":1.113,"v":4.54},{"t":1.122,"v":3.88},{"t":1.131,"v":4.76},{"t":1.140,"v":5.19},{"t":1.149,"v":4.36},{"t":1.158,"v":4.88},{"t":1.167,"v":4.09},{"t":1.176,"v":4.68},{"t":1.185,"v":5.50},{"t":1.194,"v":4.47},{"t":1.203,"v":4.92},{"t":1.212,"v":4.23},{"t":1.221,"v":4.59},{"t":1.230,"v":5.58},{"t":1.239,"v":4.74},{"t":1.248,"v":4.14},{"t":1.257,"v":4.99},{"t":1.266,"v":4.50},{"t":1.275,"v":5.26},{"t":1.284,"v":4.38},{"t":1.293,"v":4.84},{"t":1.302,"v":3.97},{"t":1.311,"v":4.66},{"t":1.320,"v":5.41},{"t":1.329,"v":4.29},{"t":1.338,"v":4.78},{"t":1.347,"v":5.55},{"t":1.356,"v":4.44},{"t":1.365,"v":4.07},{"t":1.374,"v":4.91},{"t":1.383,"v":5.22},{"t":1.392,"v":4.58},{"t":1.401,"v":3.82},{"t":1.410,"v":4.73},{"t":1.419,"v":5.06},{"t":1.428,"v":4.31},{"t":1.437,"v":4.85},{"t":1.446,"v":5.35},{"t":1.455,"v":4.19},{"t":1.464,"v":4.64},{"t":1.473,"v":3.91},{"t":1.482,"v":4.97},{"t":1.491,"v":4.42},{"t":1.500,"v":5.18},{"t":1.509,"v":4.06},{"t":1.518,"v":4.70},{"t":1.527,"v":4.26},{"t":1.536,"v":5.44},{"t":1.545,"v":4.53},{"t":1.554,"v":3.79},{"t":1.563,"v":4.82},{"t":1.572,"v":4.35},{"t":1.581,"v":5.02},{"t":1.590,"v":3.96},{"t":1.599,"v":4.61},{"t":1.608,"v":4.13},{"t":1.617,"v":4.88},{"t":1.626,"v":3.71},{"t":1.635,"v":4.47},{"t":1.644,"v":5.14},{"t":1.653,"v":4.02},{"t":1.662,"v":4.56},{"t":1.671,"v":3.85},{"t":1.680,"v":4.73},{"t":1.689,"v":4.24},{"t":1.698,"v":3.62},{"t":1.707,"v":4.91},{"t":1.716,"v":4.37},{"t":1.725,"v":3.94},{"t":1.734,"v":4.65},{"t":1.743,"v":4.09},{"t":1.752,"v":3.56},{"t":1.761,"v":4.80},{"t":1.770,"v":4.29},{"t":1.779,"v":3.77},{"t":1.788,"v":4.52},{"t":1.797,"v":4.06},{"t":1.806,"v":3.49},{"t":1.815,"v":4.71},{"t":1.824,"v":4.18},{"t":1.833,"v":3.83},{"t":1.842,"v":4.44},{"t":1.851,"v":3.98},{"t":1.860,"v":4.87},{"t":1.869,"v":3.67},{"t":1.878,"v":4.33},{"t":1.887,"v":4.00},{"t":1.896,"v":4.62},{"t":1.905,"v":3.78},{"t":1.914,"v":4.27},{"t":1.923,"v":5.20},{"t":1.932,"v":4.11},{"t":1.941,"v":3.72},{"t":1.950,"v":4.56},{"t":1.959,"v":4.03},{"t":1.968,"v":3.66},{"t":1.977,"v":4.74},{"t":1.986,"v":4.22},{"t":1.995,"v":3.87},{"t":2.004,"v":4.48},{"t":2.013,"v":4.09},{"t":2.022,"v":3.58},{"t":2.031,"v":4.67},{"t":2.040,"v":4.25},{"t":2.049,"v":3.80},{"t":2.058,"v":4.92},{"t":2.067,"v":4.34},{"t":2.076,"v":3.99},{"t":2.085,"v":5.28},{"t":2.094,"v":4.41},{"t":2.103,"v":3.74},{"t":2.112,"v":4.60},{"t":2.121,"v":4.16},{"t":2.130,"v":4.83},{"t":2.139,"v":3.90},{"t":2.148,"v":4.49},{"t":2.157,"v":5.08},{"t":2.166,"v":4.20},{"t":2.175,"v":3.68},{"t":2.184,"v":4.72},{"t":2.193,"v":4.31},{"t":2.202,"v":5.15},{"t":2.211,"v":4.05},{"t":2.220,"v":4.58},{"t":2.229,"v":3.85},{"t":2.238,"v":4.86},{"t":2.247,"v":4.40},{"t":2.256,"v":5.02},{"t":2.265,"v":4.15},{"t":2.274,"v":4.64},{"t":2.283,"v":3.93},{"t":2.292,"v":5.11},{"t":2.301,"v":4.52},{"t":2.310,"v":4.90},{"t":2.319,"v":4.27},{"t":2.328,"v":5.20},{"t":2.337,"v":4.70},{"t":2.346,"v":4.36},{"t":2.355,"v":4.95},{"t":2.364,"v":4.10},{"t":2.373,"v":3.73},{"t":2.382,"v":4.58},{"t":2.391,"v":4.83},{"t":2.398,"v":4.30},
{"t":0.006,"v":4.33},{"t":0.024,"v":3.97},{"t":0.042,"v":4.62},{"t":0.060,"v":4.18},{"t":0.078,"v":3.76},{"t":0.096,"v":4.45},{"t":0.114,"v":4.02},{"t":0.132,"v":3.91},{"t":0.150,"v":4.28},{"t":0.168,"v":4.09},{"t":0.186,"v":4.71},{"t":0.204,"v":3.84},{"t":0.222,"v":4.50},{"t":0.240,"v":5.02},{"t":0.258,"v":4.14},{"t":0.276,"v":4.63},{"t":0.294,"v":3.99},{"t":0.312,"v":4.86},{"t":0.330,"v":4.25},{"t":0.348,"v":5.19},{"t":0.366,"v":4.48},{"t":0.384,"v":4.07},{"t":0.402,"v":4.97},{"t":0.420,"v":4.55},{"t":0.438,"v":5.30},{"t":0.456,"v":4.34},{"t":0.474,"v":4.80},{"t":0.492,"v":4.12},{"t":0.510,"v":5.08},{"t":0.528,"v":4.64},{"t":0.546,"v":4.39},{"t":0.564,"v":4.91},{"t":0.582,"v":4.47},{"t":0.600,"v":5.22},{"t":0.618,"v":4.73},{"t":0.636,"v":4.32},{"t":0.654,"v":4.99},{"t":0.672,"v":4.58},{"t":0.690,"v":5.35},{"t":0.708,"v":4.81},{"t":0.726,"v":4.43},{"t":0.744,"v":4.69},{"t":0.762,"v":5.14},{"t":0.780,"v":4.62},{"t":0.798,"v":4.88},{"t":0.816,"v":4.51},{"t":0.834,"v":5.27},{"t":0.852,"v":4.75},{"t":0.870,"v":4.93},{"t":0.888,"v":4.80},{"t":0.906,"v":4.70},{"t":0.924,"v":4.98},{"t":0.942,"v":4.77},{"t":0.960,"v":4.61},{"t":0.978,"v":5.05},{"t":0.996,"v":4.83},{"t":1.014,"v":4.66},{"t":1.032,"v":4.42},{"t":1.050,"v":4.89},{"t":1.068,"v":5.21},{"t":1.086,"v":4.57},{"t":1.104,"v":4.71},{"t":1.122,"v":4.35},{"t":1.140,"v":4.82},{"t":1.158,"v":4.60},{"t":1.176,"v":5.11},{"t":1.194,"v":4.68},{"t":1.212,"v":4.41},{"t":1.230,"v":4.79},{"t":1.248,"v":4.52},{"t":1.266,"v":4.94},{"t":1.284,"v":4.63},{"t":1.302,"v":4.37},{"t":1.320,"v":4.70},{"t":1.338,"v":4.48},{"t":1.356,"v":5.07},{"t":1.374,"v":4.56},{"t":1.392,"v":4.24},{"t":1.410,"v":4.62},{"t":1.428,"v":4.90},{"t":1.446,"v":4.33},{"t":1.464,"v":4.51},{"t":1.482,"v":4.18},{"t":1.500,"v":4.74},{"t":1.518,"v":4.40},{"t":1.536,"v":4.11},{"t":1.554,"v":4.59},{"t":1.572,"v":4.26},{"t":1.590,"v":4.83},{"t":1.608,"v":4.37},{"t":1.626,"v":4.05},{"t":1.644,"v":4.48},{"t":1.662,"v":4.21},{"t":1.680,"v":3.94},{"t":1.698,"v":4.35},{"t":1.716,"v":4.08},{"t":1.734,"v":4.66},{"t":1.752,"v":4.20},{"t":1.770,"v":3.88},{"t":1.788,"v":4.29},{"t":1.806,"v":4.02},{"t":1.824,"v":4.55},{"t":1.842,"v":4.15},{"t":1.860,"v":3.80},{"t":1.878,"v":4.46},{"t":1.896,"v":4.10},{"t":1.914,"v":3.92},{"t":1.932,"v":4.38},{"t":1.950,"v":4.15},{"t":1.968,"v":4.60},{"t":1.986,"v":4.01},{"t":2.004,"v":4.27},{"t":2.022,"v":4.78},{"t":2.040,"v":3.95},{"t":2.058,"v":4.43},{"t":2.076,"v":4.12},{"t":2.094,"v":4.69},{"t":2.112,"v":4.06},{"t":2.130,"v":4.36},{"t":2.148,"v":4.89},{"t":2.166,"v":4.48},{"t":2.184,"v":4.14},{"t":2.202,"v":4.59},{"t":2.220,"v":4.95},{"t":2.238,"v":4.23},{"t":2.256,"v":4.66},{"t":2.274,"v":4.39},{"t":2.292,"v":4.80},{"t":2.310,"v":4.17},{"t":2.328,"v":4.61},{"t":2.346,"v":5.03},{"t":2.364,"v":4.44},{"t":2.382,"v":4.25},{"t":2.399,"v":4.72},
{"t":0.003,"v":1.62},{"t":0.008,"v":1.31},{"t":0.013,"v":1.85},{"t":0.018,"v":1.48},{"t":0.023,"v":1.20},{"t":0.028,"v":1.73},{"t":0.033,"v":1.55},{"t":0.038,"v":2.02},{"t":0.043,"v":1.38},{"t":0.048,"v":1.67},{"t":0.053,"v":1.14},{"t":0.058,"v":1.80},{"t":0.063,"v":1.51},{"t":0.068,"v":1.92},{"t":0.073,"v":1.27},{"t":0.078,"v":1.64},{"t":0.083,"v":1.42},{"t":0.088,"v":2.09},{"t":0.093,"v":1.58},{"t":0.098,"v":1.23},{"t":0.103,"v":1.76},{"t":0.108,"v":1.46},{"t":0.113,"v":1.88},{"t":0.118,"v":1.35},{"t":0.123,"v":1.69},{"t":0.128,"v":1.16},{"t":0.134,"v":1.57},{"t":0.140,"v":1.97},{"t":0.146,"v":1.40},{"t":0.152,"v":1.71},{"t":0.158,"v":1.26},{"t":0.164,"v":1.84},{"t":0.170,"v":1.52},{"t":0.176,"v":1.09},{"t":0.182,"v":1.63},{"t":0.188,"v":2.06},{"t":0.194,"v":1.45},{"t":0.200,"v":1.78},{"t":0.207,"v":1.33},{"t":0.214,"v":1.60},{"t":0.221,"v":1.94},{"t":0.228,"v":1.21},{"t":0.235,"v":1.54},{"t":0.242,"v":1.82},{"t":0.249,"v":1.39},{"t":0.256,"v":1.66},{"t":0.263,"v":1.02},{"t":0.270,"v":1.74},{"t":0.277,"v":1.47},{"t":0.284,"v":1.91},{"t":0.291,"v":1.29},{"t":0.298,"v":1.59},{"t":0.305,"v":2.11},{"t":0.312,"v":1.43},{"t":0.319,"v":1.70},{"t":0.326,"v":1.18},{"t":0.333,"v":1.86},{"t":0.340,"v":1.50},{"t":0.347,"v":1.25},{"t":0.354,"v":1.66},{"t":0.361,"v":0.95},{"t":0.368,"v":1.79},{"t":0.375,"v":1.37},{"t":0.382,"v":1.61},{"t":0.389,"v":1.99},{"t":0.396,"v":1.44},{"t":0.403,"v":1.73},{"t":0.410,"v":1.19},{"t":0.417,"v":1.56},{"t":0.424,"v":1.87},{"t":0.431,"v":1.32},{"t":0.438,"v":1.68},{"t":0.445,"v":1.48},{"t":0.452,"v":2.03},{"t":0.459,"v":1.24},{"t":0.466,"v":1.62},{"t":0.473,"v":1.41},{"t":0.480,"v":1.83},{"t":0.487,"v":1.10},{"t":0.494,"v":1.57},{"t":0.501,"v":1.76},{"t":0.508,"v":1.35},{"t":0.515,"v":1.65},{"t":0.522,"v":1.95},{"t":0.529,"v":1.28},{"t":0.536,"v":1.53},{"t":0.543,"v":1.81},{"t":0.550,"v":1.40},{"t":0.557,"v":1.72},{"t":0.564,"v":1.15},{"t":0.571,"v":1.60},{"t":0.578,"v":1.89},{"t":0.585,"v":1.45},{"t":0.592,"v":1.69},{"t":0.599,"v":1.22},{"t":0.606,"v":1.58},{"t":0.613,"v":2.00},{"t":0.620,"v":1.36},{"t":0.627,"v":1.64},{"t":0.634,"v":1.49},{"t":0.641,"v":1.85},{"t":0.648,"v":1.27},{"t":0.655,"v":1.55},{"t":0.662,"v":1.78},{"t":0.669,"v":1.12},{"t":0.676,"v":1.63},{"t":0.683,"v":1.42},{"t":0.690,"v":1.93},{"t":0.697,"v":1.30},{"t":0.704,"v":1.59},{"t":0.711,"v":1.74},{"t":0.718,"v":1.20},{"t":0.725,"v":1.66},{"t":0.732,"v":1.46},{"t":0.739,"v":1.98},{"t":0.746,"v":1.34},{"t":0.753,"v":1.61},{"t":0.760,"v":1.83},{"t":0.767,"v":1.25},{"t":0.774,"v":1.52},{"t":0.781,"v":1.71},{"t":0.788,"v":1.08},{"t":0.795,"v":1.58},{"t":0.802,"v":1.90},{"t":0.809,"v":1.39},{"t":0.816,"v":1.67},{"t":0.823,"v":1.17},{"t":0.830,"v":1.81},{"t":0.837,"v":1.50},{"t":0.844,"v":1.04},{"t":0.851,"v":1.64},{"t":0.858,"v":1.44},{"t":0.865,"v":1.86},{"t":0.872,"v":1.31},{"t":0.879,"v":1.60},{"t":0.886,"v":1.77},{"t":0.893,"v":1.23},{"t":0.900,"v":1.54},{"t":0.907,"v":1.95},{"t":0.914,"v":1.41},{"t":0.921,"v":1.69},{"t":0.928,"v":1.13},{"t":0.935,"v":1.57},{"t":0.942,"v":1.82},{"t":0.949,"v":1.37},{"t":0.956,"v":1.63},{"t":0.963,"v":1.27},{"t":0.970,"v":1.88},{"t":0.977,"v":1.48},{"t":0.984,"v":1.72},{"t":0.991,"v":1.19},{"t":0.998,"v":1.56},{"t":1.005,"v":2.04},{"t":1.012,"v":1.40},{"t":1.019,"v":1.66},{"t":1.026,"v":1.29},{"t":1.033,"v":1.80},{"t":1.040,"v":1.52},{"t":1.047,"v":1.11},{"t":1.054,"v":1.62},{"t":1.061,"v":1.45},{"t":1.068,"v":1.91},{"t":1.075,"v":1.33},{"t":1.082,"v":1.58},{"t":1.089,"v":1.76},{"t":1.096,"v":1.22},{"t":1.103,"v":1.65},{"t":1.110,"v":1.47},{"t":1.117,"v":1.99},{"t":1.124,"v":1.36},{"t":1.131,"v":1.60},{"t":1.138,"v":1.84},{"t":1.145,"v":1.26},{"t":1.152,"v":1.53},{"t":1.159,"v":1.70},{"t":1.166,"v":1.16},{"t":1.173,"v":1.63},{"t":1.180,"v":1.43},{"t":1.187,"v":1.87},{"t":1.194,"v":1.32},{"t":1.201,"v":1.59},{"t":1.208,"v":1.78},{"t":1.215,"v":1.21},{"t":1.222,"v":1.67},{"t":1.229,"v":1.49},{"t":1.236,"v":1.94},{"t":1.243,"v":1.35},{"t":1.250,"v":1.62},{"t":1.257,"v":1.83},{"t":1.264,"v":1.28},{"t":1.271,"v":1.56},{"t":1.278,"v":1.73},{"t":1.285,"v":1.18},{"t":1.292,"v":1.64},{"t":1.299,"v":1.90},{"t":1.306,"v":1.42},{"t":1.313,"v":1.69},{"t":1.320,"v":1.25},{"t":1.327,"v":1.81},{"t":1.334,"v":1.51},{"t":1.341,"v":1.97},{"t":1.348,"v":1.37},{"t":1.355,"v":1.61},{"t":1.362,"v":1.77},{"t":1.369,"v":1.24},{"t":1.376,"v":1.58},{"t":1.383,"v":1.86},{"t":1.390,"v":1.46},{"t":1.397,"v":1.72},{"t":1.404,"v":1.20},{"t":1.411,"v":1.65},{"t":1.418,"v":0.90},{"t":1.425,"v":1.89},{"t":1.432,"v":1.44},{"t":1.439,"v":1.70},{"t":1.446,"v":1.96},{"t":1.453,"v":1.38},{"t":1.460,"v":1.63},{"t":1.467,"v":1.85},{"t":1.474,"v":1.27},{"t":1.481,"v":1.59},{"t":1.488,"v":1.79},{"t":1.495,"v":1.33},{"t":1.502,"v":1.68},{"t":1.509,"v":1.99},{"t":1.516,"v":1.47},{"t":1.523,"v":1.74},{"t":1.530,"v":1.23},{"t":1.537,"v":1.62},{"t":1.544,"v":1.91},{"t":1.551,"v":1.41},{"t":1.558,"v":1.71},{"t":1.565,"v":2.02},{"t":1.572,"v":1.36},{"t":1.579,"v":1.66},{"t":1.586,"v":1.87},{"t":1.593,"v":1.30},{"t":1.600,"v":1.60},{"t":1.607,"v":1.96},{"t":1.614,"v":1.44},{"t":1.621,"v":1.75},{"t":1.628,"v":2.06},{"t":1.635,"v":1.26},{"t":1.642,"v":1.57},{"t":1.649,"v":1.84},{"t":1.656,"v":1.39},{"t":1.663,"v":1.70},{"t":1.670,"v":1.03},{"t":1.677,"v":1.93},{"t":1.684,"v":1.48},{"t":1.691,"v":1.76},{"t":1.698,"v":2.08},{"t":1.705,"v":1.35},{"t":1.712,"v":1.64},{"t":1.719,"v":1.88},{"t":1.726,"v":1.21},{"t":1.733,"v":1.58},{"t":1.740,"v":1.82},{"t":1.747,"v":1.45},{"t":1.754,"v":1.99},{"t":1.761,"v":1.31},{"t":1.768,"v":1.67},{"t":1.775,"v":1.86},{"t":1.782,"v":1.24},{"t":1.789,"v":1.55},{"t":1.796,"v":1.80},{"t":1.803,"v":1.42},{"t":1.810,"v":1.71},{"t":1.817,"v":1.17},{"t":1.824,"v":1.63},{"t":1.831,"v":1.92},{"t":1.838,"v":1.37},{"t":1.845,"v":1.59},{"t":1.852,"v":1.78},{"t":1.859,"v":1.28},{"t":1.866,"v":1.66},{"t":1.873,"v":1.47},{"t":1.880,"v":1.85},{"t":1.887,"v":1.19},{"t":1.894,"v":1.61},{"t":1.901,"v":1.76},{"t":1.908,"v":1.34},{"t":1.915,"v":1.04},{"t":1.922,"v":1.56},{"t":1.929,"v":1.83},{"t":1.936,"v":1.43},{"t":1.943,"v":1.70},{"t":1.950,"v":1.25},{"t":1.957,"v":1.64},{"t":1.964,"v":1.89},{"t":1.971,"v":1.38},{"t":1.978,"v":1.58},{"t":1.985,"v":1.77},{"t":1.992,"v":1.22},{"t":1.999,"v":1.53},{"t":2.006,"v":1.81},{"t":2.013,"v":1.46},{"t":2.020,"v":1.69},{"t":2.027,"v":1.15},{"t":2.034,"v":1.60},{"t":2.041,"v":1.87},{"t":2.048,"v":1.32},{"t":2.055,"v":1.57},{"t":2.062,"v":1.74},{"t":2.069,"v":1.10},{"t":2.076,"v":1.51},{"t":2.083,"v":1.79},{"t":2.090,"v":1.40},{"t":2.097,"v":1.66},{"t":2.104,"v":1.20},{"t":2.111,"v":1.58},{"t":2.118,"v":1.90},{"t":2.125,"v":1.35},{"t":2.132,"v":1.63},{"t":2.139,"v":1.02},{"t":2.146,"v":1.49},{"t":2.153,"v":1.76},{"t":2.160,"v":1.28},{"t":2.167,"v":1.55},{"t":2.174,"v":1.84},{"t":2.181,"v":1.43},{"t":2.188,"v":1.68},{"t":2.195,"v":1.14},{"t":2.202,"v":1.59},{"t":2.209,"v":1.80},{"t":2.216,"v":1.36},{"t":2.223,"v":1.62},{"t":2.230,"v":1.07},{"t":2.237,"v":1.50},{"t":2.244,"v":1.75},{"t":2.251,"v":1.30},{"t":2.258,"v":1.56},{"t":2.265,"v":1.91},{"t":2.272,"v":1.41},{"t":2.279,"v":1.00},{"t":2.286,"v":1.65},{"t":2.293,"v":1.17},{"t":2.300,"v":1.53},{"t":2.307,"v":1.82},{"t":2.314,"v":1.38},{"t":2.321,"v":1.61},{"t":2.328,"v":1.24},{"t":2.335,"v":1.70},{"t":2.342,"v":1.45},{"t":2.349,"v":1.89},{"t":2.356,"v":1.29},{"t":2.363,"v":1.58},{"t":2.370,"v":1.12},{"t":2.377,"v":1.66},{"t":2.384,"v":1.43},{"t":2.391,"v":1.80},{"t":2.398,"v":1.34},
{"t":0.006,"v":1.48},{"t":0.024,"v":1.66},{"t":0.042,"v":1.34},{"t":0.060,"v":1.58},{"t":0.078,"v":1.79},{"t":0.096,"v":1.41},{"t":0.114,"v":1.62},{"t":0.132,"v":1.27},{"t":0.150,"v":1.55},{"t":0.168,"v":1.73},{"t":0.186,"v":1.38},{"t":0.204,"v":1.60},{"t":0.222,"v":1.47},{"t":0.240,"v":1.69},{"t":0.258,"v":1.33},{"t":0.276,"v":1.56},{"t":0.294,"v":1.81},{"t":0.312,"v":1.44},{"t":0.330,"v":1.63},{"t":0.348,"v":1.29},{"t":0.366,"v":1.52},{"t":0.384,"v":1.76},{"t":0.402,"v":1.40},{"t":0.420,"v":1.59},{"t":0.438,"v":1.85},{"t":0.456,"v":1.36},{"t":0.474,"v":1.57},{"t":0.492,"v":1.70},{"t":0.510,"v":1.45},{"t":0.528,"v":1.64},{"t":0.546,"v":1.23},{"t":0.564,"v":1.53},{"t":0.582,"v":1.78},{"t":0.600,"v":1.42},{"t":0.618,"v":1.61},{"t":0.636,"v":1.31},{"t":0.654,"v":1.67},{"t":0.672,"v":1.50},{"t":0.690,"v":1.74},{"t":0.708,"v":1.39},{"t":0.726,"v":1.58},{"t":0.744,"v":1.26},{"t":0.762,"v":1.55},{"t":0.780,"v":1.82},{"t":0.798,"v":1.46},{"t":0.816,"v":1.63},{"t":0.834,"v":1.35},{"t":0.852,"v":1.71},{"t":0.870,"v":1.52},{"t":0.888,"v":1.40},{"t":0.906,"v":1.65},{"t":0.924,"v":1.87},{"t":0.942,"v":1.47},{"t":0.960,"v":1.60},{"t":0.978,"v":1.30},{"t":0.996,"v":1.57},{"t":1.014,"v":1.76},{"t":1.032,"v":1.43},{"t":1.050,"v":1.62},{"t":1.068,"v":1.28},{"t":1.086,"v":1.54},{"t":1.104,"v":1.80},{"t":1.122,"v":1.45},{"t":1.140,"v":1.66},{"t":1.158,"v":1.37},{"t":1.176,"v":1.58},{"t":1.194,"v":1.73},{"t":1.212,"v":1.41},{"t":1.230,"v":1.60},{"t":1.248,"v":1.85},{"t":1.266,"v":1.50},{"t":1.284,"v":1.69},{"t":1.302,"v":1.34},{"t":1.320,"v":1.62},{"t":1.338,"v":1.79},{"t":1.356,"v":1.48},{"t":1.374,"v":1.66},{"t":1.392,"v":1.91},{"t":1.410,"v":1.55},{"t":1.428,"v":1.73},{"t":1.446,"v":1.44},{"t":1.464,"v":1.68},{"t":1.482,"v":1.86},{"t":1.500,"v":1.52},{"t":1.518,"v":1.77},{"t":1.536,"v":1.94},{"t":1.554,"v":1.60},{"t":1.572,"v":1.82},{"t":1.590,"v":1.49},{"t":1.608,"v":1.71},{"t":1.626,"v":1.90},{"t":1.644,"v":1.58},{"t":1.662,"v":1.79},{"t":1.680,"v":1.95},{"t":1.698,"v":1.62},{"t":1.716,"v":1.84},{"t":1.734,"v":1.53},{"t":1.752,"v":1.75},{"t":1.770,"v":1.92},{"t":1.788,"v":1.57},{"t":1.806,"v":1.70},{"t":1.824,"v":1.46},{"t":1.842,"v":1.81},{"t":1.860,"v":1.61},{"t":1.878,"v":1.39},{"t":1.896,"v":1.73},{"t":1.914,"v":1.52},{"t":1.932,"v":1.67},{"t":1.950,"v":1.43},{"t":1.968,"v":1.78},{"t":1.986,"v":1.56},{"t":2.004,"v":1.35},{"t":2.022,"v":1.64},{"t":2.040,"v":1.49},{"t":2.058,"v":1.72},{"t":2.076,"v":1.30},{"t":2.094,"v":1.59},{"t":2.112,"v":1.47},{"t":2.130,"v":1.76},{"t":2.148,"v":1.38},{"t":2.166,"v":1.61},{"t":2.184,"v":1.50},{"t":2.202,"v":1.27},{"t":2.220,"v":1.68},{"t":2.238,"v":1.54},{"t":2.256,"v":1.82},{"t":2.274,"v":1.45},{"t":2.292,"v":1.63},{"t":2.310,"v":1.36},{"t":2.328,"v":1.57},{"t":2.346,"v":1.74},{"t":2.364,"v":1.42},{"t":2.382,"v":1.60},{"t":2.399,"v":1.51},
{"t":0.205,"v":3.92},{"t":0.218,"v":3.78},{"t":0.229,"v":3.86},{"t":0.241,"v":3.69},{"t":0.252,"v":3.74},{"t":0.263,"v":3.58},{"t":0.275,"v":3.65},{"t":0.286,"v":3.49},{"t":0.297,"v":3.57},{"t":0.308,"v":3.41},{"t":0.319,"v":3.52},{"t":0.330,"v":3.35},{"t":0.341,"v":3.44},{"t":0.352,"v":3.28},{"t":0.363,"v":3.37},{"t":0.374,"v":3.21},{"t":0.385,"v":3.33},{"t":0.396,"v":3.16},{"t":0.407,"v":3.25},{"t":0.418,"v":3.08},{"t":0.429,"v":3.19},{"t":0.440,"v":3.01},{"t":0.451,"v":3.12},{"t":0.462,"v":2.94},{"t":0.473,"v":3.04},{"t":0.484,"v":2.87},{"t":0.495,"v":2.98},{"t":0.506,"v":2.81},{"t":0.517,"v":2.92},{"t":0.528,"v":2.75},{"t":0.540,"v":2.86},{"t":0.552,"v":2.69},{"t":0.564,"v":2.80},{"t":0.576,"v":2.62},{"t":0.589,"v":2.74},{"t":0.602,"v":2.57},{"t":0.616,"v":2.68},{"t":0.631,"v":2.51},{"t":0.647,"v":2.63},{"t":0.664,"v":2.46},{"t":0.682,"v":2.58},{"t":0.701,"v":2.40},{"t":0.721,"v":2.53},{"t":0.742,"v":2.36},{"t":0.764,"v":2.48},{"t":0.787,"v":2.31},{"t":0.811,"v":2.44},{"t":0.836,"v":2.28},{"t":0.862,"v":2.40},{"t":0.889,"v":2.25},{"t":0.245,"v":3.30},{"t":0.282,"v":3.88},{"t":0.315,"v":3.18},{"t":0.348,"v":3.62},{"t":0.381,"v":3.00},{"t":0.414,"v":3.45},{"t":0.447,"v":2.80},{"t":0.480,"v":3.28},{"t":0.513,"v":2.65},{"t":0.546,"v":3.10},{"t":0.579,"v":2.48},{"t":0.612,"v":2.95},{"t":0.645,"v":2.35},{"t":0.678,"v":2.80},{"t":0.712,"v":2.28},{"t":0.745,"v":2.66},{"t":0.778,"v":2.20},{"t":0.812,"v":2.60},{"t":0.846,"v":2.15},{"t":0.880,"v":2.55},{"t":0.915,"v":2.32},{"t":0.945,"v":2.48},{"t":0.975,"v":2.21},{"t":0.738,"v":3.36},{"t":0.752,"v":3.30},{"t":0.095,"v":2.45},{"t":0.128,"v":2.72},{"t":0.163,"v":2.38},{"t":0.198,"v":2.85},{"t":0.232,"v":2.55},{"t":0.266,"v":2.90},{"t":0.300,"v":2.62},{"t":0.334,"v":2.98},{"t":0.371,"v":2.70},
{"t":1.048,"v":2.62},{"t":1.072,"v":2.86},{"t":1.095,"v":2.80},{"t":1.118,"v":2.91},{"t":1.142,"v":2.84},{"t":1.165,"v":2.88},{"t":1.188,"v":2.74},{"t":1.205,"v":2.56},{"t":1.222,"v":2.40},{"t":1.238,"v":2.27},{"t":1.128,"v":2.35},{"t":1.105,"v":2.45},{"t":1.152,"v":2.50},{"t":1.002,"v":2.30},{"t":0.978,"v":2.58},{"t":1.025,"v":2.76},
{"t":1.782,"v":3.40},{"t":1.805,"v":3.33},{"t":1.826,"v":3.44},{"t":1.848,"v":3.26},{"t":1.869,"v":3.37},{"t":1.890,"v":3.19},{"t":1.911,"v":3.30},{"t":1.932,"v":3.12},{"t":1.953,"v":3.22},{"t":1.974,"v":3.05},{"t":1.995,"v":3.15},{"t":2.016,"v":2.97},{"t":2.037,"v":3.08},{"t":2.058,"v":2.89},{"t":2.079,"v":3.00},{"t":2.100,"v":2.81},{"t":2.121,"v":2.92},{"t":2.142,"v":2.73},{"t":2.163,"v":2.84},{"t":2.184,"v":2.65},{"t":2.205,"v":2.76},{"t":2.226,"v":2.57},{"t":2.247,"v":2.68},{"t":2.268,"v":2.49},{"t":2.289,"v":2.60},{"t":2.310,"v":2.41},{"t":2.331,"v":2.52},{"t":2.352,"v":2.33},{"t":2.373,"v":2.44},{"t":2.394,"v":2.26},{"t":1.800,"v":3.62},{"t":1.840,"v":3.05},{"t":1.880,"v":3.52},{"t":1.920,"v":2.94},{"t":1.960,"v":3.40},{"t":2.000,"v":2.80},{"t":2.040,"v":3.32},{"t":2.080,"v":2.70},{"t":2.120,"v":3.20},{"t":2.160,"v":2.58},{"t":2.200,"v":3.06},{"t":2.240,"v":2.45},{"t":2.280,"v":2.92},{"t":2.320,"v":2.30},{"t":2.360,"v":2.80},{"t":2.390,"v":2.18},{"t":1.620,"v":2.12},{"t":1.660,"v":2.30},{"t":1.700,"v":2.21},{"t":1.740,"v":2.45},{"t":1.780,"v":2.36},{"t":1.820,"v":2.58},{"t":1.860,"v":2.49},{"t":1.900,"v":2.70},{"t":1.940,"v":2.62},{"t":1.980,"v":2.84},{"t":2.020,"v":2.55},{"t":2.060,"v":2.40},{"t":2.100,"v":2.62},{"t":2.140,"v":2.25},{"t":2.180,"v":2.48},{"t":2.220,"v":2.12},{"t":2.260,"v":2.38},{"t":2.300,"v":2.05},{"t":2.340,"v":2.20},{"t":2.380,"v":1.98},{"t":2.300,"v":3.55},{"t":2.330,"v":3.78},{"t":2.360,"v":3.40},{"t":2.390,"v":3.65},{"t":2.345,"v":3.15},{"t":2.385,"v":3.02}]
},
"concat":[
{"width":390,"height":205,"data":{"name":"sa"},
"title":{"text":"(a)","fontSize":23,"fontWeight":"bold","anchor":"start","frame":"group","dx":77,"baseline":"alphabetic","offset":-22},
"mark":{"type":"line","color":"black","strokeWidth":1.4,"clip":true},
"encoding":{
"x":{"field":"f","type":"quantitative","scale":{"domain":[0,3],"nice":false,"zero":false},"axis":{"values":[0,1,2,3],"format":"d","title":"Frequency (GHz)"}},
"y":{"field":"p","type":"quantitative","scale":{"domain":[-80,0],"nice":false},"axis":{"values":[-80,-60,-40,-20,0],"title":"Input Spectrum (dBm)"}}}},
{"width":390,"height":205,"data":{"name":"ea"},
"title":{"text":"Injection intensity with AM","fontSize":17,"fontWeight":"normal","anchor":"start","frame":"group","dx":-335,"baseline":"alphabetic","offset":-9},
"mark":{"type":"circle","size":10,"color":"black","opacity":1},
"encoding":{
"x":{"field":"t","type":"quantitative","scale":{"domain":[0,2.4],"nice":false,"zero":false},"axis":{"values":[0,0.4,0.8,1.2,1.6,2.0,2.4],"labelExpr":"datum.value == 0 ? '0' : format(datum.value, '.1f')","title":"Time (ns)"}},
"y":{"field":"v","type":"quantitative","scale":{"domain":[0,11],"nice":false},"axis":{"values":[1,2,3,4,5,6,7,8,9,10],"labels":false,"title":"Input Signal (a.u.)","titlePadding":13}}}},
{"width":390,"height":205,"data":{"name":"sb"},
"title":{"text":"(b)","fontSize":23,"fontWeight":"bold","anchor":"start","frame":"group","dx":8,"baseline":"alphabetic","offset":-19},
"mark":{"type":"line","color":"black","strokeWidth":1.4,"clip":true},
"encoding":{
"x":{"field":"f","type":"quantitative","scale":{"domain":[0,3],"nice":false,"zero":false},"axis":{"values":[0,1,2,3],"format":"d","title":"Frequency (GHz)"}},
"y":{"field":"p","type":"quantitative","scale":{"domain":[-80,0],"nice":false},"axis":{"values":[-80,-60,-40,-20,0],"title":"Output Spectrum (dBm)"}}}},
{"width":390,"height":205,"data":{"name":"eb"},
"title":{"text":"Output after demodulating FM period-one state","fontSize":17,"fontWeight":"normal","anchor":"start","frame":"group","dx":-404,"baseline":"alphabetic","offset":-5},
"mark":{"type":"circle","size":10,"color":"black","opacity":1},
"encoding":{
"x":{"field":"t","type":"quantitative","scale":{"domain":[0,2.4],"nice":false,"zero":false},"axis":{"values":[0,0.4,0.8,1.2,1.6,2.0,2.4],"labelExpr":"datum.value == 0 ? '0' : format(datum.value, '.1f')","title":"Time (ns)"}},
"y":{"field":"v","type":"quantitative","scale":{"domain":[0,7],"nice":false},"axis":{"values":[1,2,3,4,5,6],"labels":false,"title":"Output Signal (a.u.)","titlePadding":13}}}}
]
}
